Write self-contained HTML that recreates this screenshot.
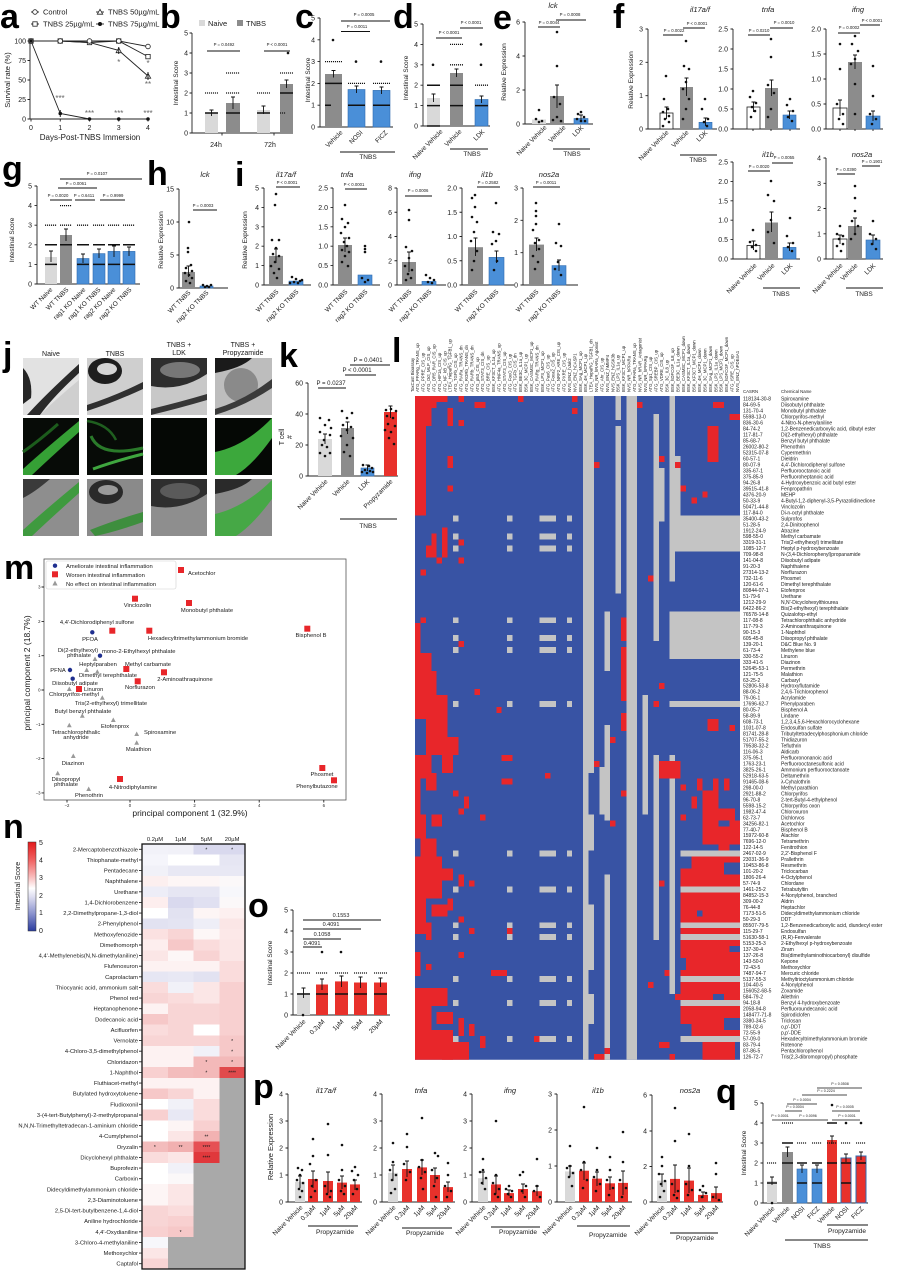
<!DOCTYPE html>
<html><head><meta charset="utf-8"><style>
html,body{margin:0;padding:0;background:#fff;}
svg{display:block}
text{font-family:"Liberation Sans",Arial,sans-serif;fill:#1a1a1a}
.L{font-size:34px;font-weight:bold;fill:#000}
.tk{font-size:7px}
.tt{font-size:6.5px}
.pv{font-size:4.3px}
.it{font-size:7.5px;font-style:italic}
.ax{stroke:#222;stroke-width:0.9;fill:none}
.pl{stroke:#111;stroke-width:1;fill:none}
.dt{stroke:#111;stroke-width:1.3;stroke-dasharray:1.1 0.9;fill:none}
.th{stroke:#111;stroke-width:1.5;fill:none}
.eb{stroke:#111;stroke-width:0.9;fill:none}
.dots{stroke:#111;stroke-width:2.6;stroke-linecap:round;fill:none}
.g1{fill:#d9d9d9}.g2{fill:#8c8c8c}.bl{fill:#4a8fd8;stroke:#2f6cb0;stroke-width:0.6}.rd{fill:#e8312b}
.rb{fill:#e8312b;stroke:#2f6cb0;stroke-width:1}
.wb{fill:#fff;stroke:#222;stroke-width:0.8}
.e{text-anchor:end}.m{text-anchor:middle}
.gy text{fill:#666}
.hr{fill:#e8262a}.hg{fill:#c4c4c4}.hb{fill:#3853a4}
</style></head><body>
<svg width="900" height="1274" viewBox="0 0 900 1274" xmlns="http://www.w3.org/2000/svg">
<rect width="900" height="1274" fill="#fff"/>

<!-- ================= a ================= -->
<text class="L" x="0" y="28">a</text>
<g style="font-size:7.5px">
<path class="ax" d="M31 12H39"/><circle cx="35" cy="12" r="2.3" class="wb"/><text x="43" y="14.6">Control</text>
<path class="ax" d="M31 24H39"/><rect x="32.8" y="21.8" width="4.4" height="4.4" class="wb"/><text x="43" y="26.6">TNBS 25µg/mL</text>
<path class="ax" d="M96 12H104"/><path d="M100 9.3L102.7 14.2H97.3Z" class="wb"/><text x="108" y="14.6">TNBS 50µg/mL</text>
<path class="ax" d="M96 24H104"/><circle cx="100" cy="24" r="2" fill="#111"/><text x="108" y="26.6">TNBS 75µg/mL</text>
</g>
<path class="ax" d="M30 41V119H148M27.5 41H30M27.5 60.5H30M27.5 80H30M27.5 99.5H30M27.5 119H30M31 119V121.5M60.25 119V121.5M89.5 119V121.5M118.75 119V121.5M148 119V121.5"/>
<g class="tk e"><text x="26" y="43.5">100</text><text x="26" y="63">75</text><text x="26" y="82.5">50</text><text x="26" y="102">25</text><text x="26" y="121.5">0</text></g>
<g class="tk m"><text x="31" y="130">0</text><text x="60.25" y="130">1</text><text x="89.5" y="130">2</text><text x="118.75" y="130">3</text><text x="148" y="130">4</text></g>
<text class="m" style="font-size:8px" x="90" y="140">Days-Post-TNBS Immersion</text>
<text class="m" style="font-size:7.5px" transform="translate(10,80) rotate(-90)">Survival rate (%)</text>
<polyline class="ax" points="31,41 60.25,41 89.5,41 118.75,41 148,46.5"/>
<polyline class="ax" points="31,41 60.25,41 89.5,42.5 118.75,41 148,56.6"/>
<polyline class="ax" points="31,41 60.25,41 89.5,42.5 118.75,50.4 148,76"/>
<polyline class="ax" points="31,41 60.25,113.5 89.5,119 118.75,119 148,119"/>
<g class="wb">
<rect x="28.8" y="38.8" width="4.4" height="4.4"/><rect x="58" y="38.8" width="4.4" height="4.4"/><rect x="87.3" y="40.3" width="4.4" height="4.4"/><rect x="116.5" y="38.8" width="4.4" height="4.4"/><rect x="145.8" y="54.4" width="4.4" height="4.4"/>
<circle cx="31" cy="41" r="2.3"/><circle cx="60.25" cy="41" r="2.3"/><circle cx="89.5" cy="41" r="2.3"/><circle cx="118.75" cy="41" r="2.3"/><circle cx="148" cy="46.5" r="2.3"/>
<path d="M118.75 47.8L121.4 52.7H116.1Z M148 73.3L150.7 78.2H145.3Z"/>
</g>
<g fill="#111"><circle cx="31" cy="41" r="1.8"/><circle cx="60.25" cy="113.5" r="1.8"/><circle cx="89.5" cy="119" r="1.8"/><circle cx="118.75" cy="119" r="1.8"/><circle cx="148" cy="119" r="1.8"/></g>
<path class="eb" d="M60.25 110V117M118.75 47V54M148 72V80"/>
<g class="gy m" style="font-size:8px"><text x="60" y="101">***</text><text x="89.5" y="116">***</text><text x="118.75" y="116">***</text><text x="148" y="116">***</text><text x="118.75" y="65">*</text><text x="148" y="66">*</text><text x="148" y="87">**</text></g>

<!-- ================= b ================= -->
<text class="L" x="160" y="28">b</text>
<rect x="199" y="20" width="6" height="6" class="g1"/><text x="208" y="26" style="font-size:7.5px">Naive</text>
<rect x="237" y="20" width="6" height="6" class="g2"/><text x="246" y="26" style="font-size:7.5px">TNBS</text>
<path class="ax" d="M192 33V133H293M189.5 33H192M189.5 53H192M189.5 73H192M189.5 93H192M189.5 113H192M189.5 133H192M222 133V135.5M274 133V135.5"/>
<g class="tk e"><text x="188" y="35.5">5</text><text x="188" y="55.5">4</text><text x="188" y="75.5">3</text><text x="188" y="95.5">2</text><text x="188" y="115.5">1</text><text x="188" y="135.5">0</text></g>
<rect x="205" y="113" width="13" height="20" class="g1"/>
<rect x="226" y="103" width="14" height="30" class="g2"/>
<rect x="257" y="110" width="13" height="23" class="g1"/>
<rect x="280" y="84" width="13" height="49" class="g2"/>
<path class="dt" d="M205 93H218M226 73H240M226 93H240M257 93H270M280 73H293M280 113H286"/>
<path class="th" d="M205 113H218M226 113H240M257 113H270M280 93H293"/>
<path class="dots" d="M288 53h0"/>
<path class="eb" d="M211.5 110V116M209.5 110H213.5M233 97V109M231 97H235M263.5 106V114M261.5 106H265.5M286.5 80V88M284.5 80H288.5"/>
<text class="pv m" x="224" y="46">P = 0.0492</text><path class="pl" d="M207 51H240"/>
<text class="pv m" x="277" y="46">P &lt; 0.0001</text><path class="pl" d="M264 51H290"/>
<text class="tk m" x="216" y="147">24h</text><text class="tk m" x="270" y="147">72h</text>
<text class="tt m" transform="translate(178,83) rotate(-90)">Intestinal Score</text>

<!-- ================= c ================= -->
<text class="L" x="295" y="28">c</text>
<path class="ax" d="M320 18V127H393M317.5 18H320M317.5 39.8H320M317.5 61.6H320M317.5 83.4H320M317.5 105.2H320M317.5 127H320"/>
<g class="tk e"><text x="315" y="20.5">5</text><text x="315" y="42.3">4</text><text x="315" y="64.1">3</text><text x="315" y="85.9">2</text><text x="315" y="107.7">1</text><text x="315" y="129.5">0</text></g>
<rect x="325" y="74" width="17" height="53" class="g2"/>
<rect x="348" y="89.5" width="17" height="37.5" class="bl"/>
<rect x="373" y="90.4" width="17" height="36.6" class="bl"/>
<path class="dt" d="M325 61.6H342M348 83.4H365M373 83.4H390"/>
<path class="th" d="M325 83.4H342M325 105.2H331M348 105.2H365M373 105.2H390"/>
<path class="dots" d="M333 40h0M356 61.6h0M381 61.6h0"/>
<path class="eb" d="M333.5 70.5V77.5M331.5 70.5H335.5M356.5 86V93M354.5 86H358.5M381.5 87V94M379.5 87H383.5"/>
<text class="pv m" x="364" y="16">P = 0.0005</text><path class="pl" d="M341 21H390"/>
<text class="pv m" x="357" y="28">P = 0.0011</text><path class="pl" d="M341 31.5H370"/>
<g class="tt e"><text transform="translate(343,133) rotate(-45)">Vehicle</text><text transform="translate(363,133) rotate(-45)">NOSI</text><text transform="translate(388,133) rotate(-45)">FICZ</text></g>
<path class="pl" d="M340 152H395"/><text class="tt m" x="368" y="159">TNBS</text>
<text class="tt m" transform="translate(310,80) rotate(-90)">Intestinal Score</text>

<!-- ================= d ================= -->
<text class="L" x="393" y="28">d</text>
<path class="ax" d="M423 24V126H490M420.5 24H423M420.5 44.4H423M420.5 64.8H423M420.5 85.2H423M420.5 105.6H423M420.5 126H423"/>
<g class="tk e"><text x="418" y="26.5">5</text><text x="418" y="46.9">4</text><text x="418" y="67.3">3</text><text x="418" y="87.7">2</text><text x="418" y="108.1">1</text><text x="418" y="128.5">0</text></g>
<rect x="427" y="98" width="13" height="28" class="g1"/>
<rect x="450" y="73" width="13" height="53" class="g2"/>
<rect x="475" y="99.5" width="13" height="26.5" class="bl"/>
<path class="dt" d="M450 44.4H463M450 64.8H463M475 85.2H488"/>
<path class="th" d="M427 85.2H440M427 105.6H440M427 126H440M450 85.2H463M450 105.6H463M475 105.6H488"/>
<path class="dots" d="M433 64.8h0M481 44.4h0M481 64.8h0"/>
<path class="eb" d="M433.5 94V102M431.5 94H435.5M456.5 69V77M454.5 69H458.5M481.5 96V103M479.5 96H483.5"/>
<text class="pv m" x="471" y="24">P &lt; 0.0001</text><path class="pl" d="M460 28H483"/>
<text class="pv m" x="449" y="34">P &lt; 0.0001</text><path class="pl" d="M436 38H462"/>
<g class="tt e"><text transform="translate(443,132) rotate(-45)">Naive Vehicle</text><text transform="translate(462,132) rotate(-45)">Vehicle</text><text transform="translate(485,132) rotate(-45)">LDK</text></g>
<path class="pl" d="M450 149H488"/><text class="tt m" x="472" y="156">TNBS</text>
<text class="tt m" transform="translate(408,78) rotate(-90)">Intestinal Score</text>

<!-- ================= e ================= -->
<text class="L" x="493" y="29">e</text>
<text class="it m" x="553" y="8">lck</text>
<path class="ax" d="M525 22V124H593M522.5 22H525M522.5 56H525M522.5 90H525M522.5 124H525"/>
<g class="tk e"><text x="520" y="24.5">6</text><text x="520" y="58.5">4</text><text x="520" y="92.5">2</text><text x="520" y="126.5">0</text></g>
<rect x="532" y="119.5" width="14" height="4.5" class="g1"/>
<rect x="550" y="96" width="14" height="28" class="g2"/>
<rect x="574" y="118.5" width="14" height="5.5" class="bl"/>
<path class="dots" d="M539 110h0M536 119h0M542 121h0M539 122h0M557 32h0M557 66h0M554 97h0M560 104h0M557 117h0M553 120h0M561 121h0M581 112h0M578 114h0M584 117h0M577 119h0M581 121h0M585 121h0"/>
<path class="eb" d="M557 85V108M555 85H559M581 115V121M579 115H583"/>
<text class="pv m" x="570" y="16">P = 0.0008</text><path class="pl" d="M556 20H586"/>
<text class="pv m" x="549" y="24">P = 0.0044</text><path class="pl" d="M538 27H560"/>
<text class="tt m" transform="translate(506,72) rotate(-90)">Relative Expression</text>
<g class="tt e"><text transform="translate(547,128) rotate(-45)">Naive Vehicle</text><text transform="translate(566,128) rotate(-45)">Vehicle</text><text transform="translate(584,128) rotate(-45)">LDK</text></g>
<path class="pl" d="M553 149H590"/><text class="tt m" x="572" y="156">TNBS</text>

<!-- ================= f top ================= -->
<text class="L" x="613" y="28">f</text>
<text class="tt m" transform="translate(633,80) rotate(-90)">Relative Expression</text>
<!-- il17a/f -->
<text class="it m" x="700" y="12">il17a/f</text>
<path class="ax" d="M648 29V129H717M645.5 29H648M645.5 62.3H648M645.5 95.7H648M645.5 129H648"/>
<g class="tk e"><text x="643" y="31.5">3</text><text x="643" y="64.8">2</text><text x="643" y="98.2">1</text><text x="643" y="131.5">0</text></g>
<rect x="660" y="113" width="13" height="16" class="wb"/>
<rect x="680" y="87" width="13" height="42" class="g2"/>
<rect x="699" y="122.3" width="13" height="6.7" class="bl"/>
<path class="dots" d="M666 76h0M664 99h0M668 109h0M663 112h0M669 116h0M665 119h0M669 122h0M663 126h0M686 41h0M684 66h0M689 69h0M686 82h0M683 89h0M689 99h0M686 109h0M683 119h0M705 99h0M702 109h0M708 119h0M704 122h0M707 126h0"/>
<path class="eb" d="M666.5 107V119M664.5 107H668.5M686.5 78V96M684.5 78H688.5M705.5 118V126M703.5 118H707.5"/>
<text class="pv m" x="674" y="32">P = 0.0022</text><path class="pl" d="M663 35H683"/>
<text class="pv m" x="697" y="25">P &lt; 0.0001</text><path class="pl" d="M683 28H705"/>
<g class="tt e"><text transform="translate(669,133) rotate(-45)">Naive Vehicle</text><text transform="translate(689,133) rotate(-45)">Vehicle</text><text transform="translate(708,133) rotate(-45)">LDK</text></g>
<path class="pl" d="M680 155H717"/><text class="tt m" x="698" y="162">TNBS</text>
<!-- tnfa -->
<text class="it m" x="768" y="12">tnfa</text>
<path class="ax" d="M733 29V129H800M730.5 29H733M730.5 49H733M730.5 69H733M730.5 89H733M730.5 109H733M730.5 129H733M753 129V131M771 129V131M790 129V131"/>
<g class="tk e"><text x="728" y="31.5">2.5</text><text x="728" y="51.5">2.0</text><text x="728" y="71.5">1.5</text><text x="728" y="91.5">1.0</text><text x="728" y="111.5">0.5</text><text x="728" y="131.5">0.0</text></g>
<rect x="747" y="107" width="13" height="22" class="wb"/>
<rect x="765" y="88" width="13" height="41" class="g2"/>
<rect x="783" y="115" width="13" height="14" class="bl"/>
<path class="dots" d="M753 91h0M750 97h0M756 103h0M752 107h0M755 111h0M751 117h0M771 39h0M771 57h0M768 85h0M774 93h0M771 109h0M768 117h0M790 99h0M787 105h0M793 111h0M788 117h0M792 121h0"/>
<path class="eb" d="M753.5 102V112M751.5 102H755.5M771.5 80V96M769.5 80H773.5M789.5 111V119M787.5 111H791.5"/>
<text class="pv m" x="759" y="32">P = 0.0210</text><path class="pl" d="M748 35H770"/>
<text class="pv m" x="784" y="24">P = 0.0010</text><path class="pl" d="M770 28H793"/>
<!-- ifng -->
<text class="it m" x="858" y="12">ifng</text>
<path class="ax" d="M826 29V129H883M823.5 29H826M823.5 54H826M823.5 79H826M823.5 104H826M823.5 129H826M840 129V131M855 129V131M873 129V131"/>
<g class="tk e"><text x="821" y="31.5">2.0</text><text x="821" y="56.5">1.5</text><text x="821" y="81.5">1.0</text><text x="821" y="106.5">0.5</text><text x="821" y="131.5">0.0</text></g>
<rect x="833" y="108" width="14" height="21" class="wb"/>
<rect x="848" y="62" width="14" height="67" class="g2"/>
<rect x="866" y="116" width="14" height="13" class="bl"/>
<path class="dots" d="M840 44h0M840 69h0M837 104h0M843 114h0M839 119h0M843 124h0M855 36h0M852 44h0M858 51h0M855 59h0M851 64h0M855 84h0M855 114h0M873 66h0M873 96h0M870 114h0M876 119h0M872 124h0"/>
<path class="eb" d="M840 100V116M838 100H842M855 55V69M853 55H857M873 111V121M871 111H875"/>
<text class="pv m" x="849" y="29">P = 0.0002</text><path class="pl" d="M838 33H860"/>
<text class="pv m" x="872" y="22">P &lt; 0.0001</text><path class="pl" d="M860 25H880"/>
<!-- il1b bottom -->
<text class="it m" x="768" y="157">il1b</text>
<path class="ax" d="M733 162V259H800M730.5 162H733M730.5 181.4H733M730.5 200.8H733M730.5 220.2H733M730.5 239.6H733M730.5 259H733"/>
<g class="tk e"><text x="728" y="164.5">2.5</text><text x="728" y="183.9">2.0</text><text x="728" y="203.3">1.5</text><text x="728" y="222.7">1.0</text><text x="728" y="242.1">0.5</text><text x="728" y="261.5">0.0</text></g>
<rect x="747" y="245.4" width="13" height="13.6" class="wb"/>
<rect x="765" y="222.5" width="13" height="36.5" class="g2"/>
<rect x="783" y="247.4" width="13" height="11.6" class="bl"/>
<path class="dots" d="M753 230h0M750 242h0M756 245h0M752 247h0M756 251h0M771 181h0M768 195h0M774 201h0M771 220h0M768 232h0M774 243h0M790 218h0M787 236h0M793 243h0M788 247h0M792 251h0"/>
<path class="eb" d="M753.5 241V250M751.5 241H755.5M771.5 212V232M769.5 212H773.5M789.5 243V251M787.5 243H791.5"/>
<text class="pv m" x="784" y="159">P = 0.0055</text><path class="pl" d="M772 163H793"/>
<text class="pv m" x="759" y="168">P = 0.0020</text><path class="pl" d="M748 171H770"/>
<g class="tt e"><text transform="translate(757,266) rotate(-45)">Naive Vehicle</text><text transform="translate(775,266) rotate(-45)">Vehicle</text><text transform="translate(793,266) rotate(-45)">LDK</text></g>
<path class="pl" d="M763 288H800"/><text class="tt m" x="781" y="296">TNBS</text>
<!-- nos2a -->
<text class="it m" x="862" y="157">nos2a</text>
<path class="ax" d="M826 158V259H883M823.5 158H826M823.5 183.3H826M823.5 208.5H826M823.5 233.8H826M823.5 259H826"/>
<g class="tk e"><text x="821" y="160.5">4</text><text x="821" y="185.8">3</text><text x="821" y="211">2</text><text x="821" y="236.3">1</text><text x="821" y="261.5">0</text></g>
<rect x="833" y="239" width="14" height="20" class="wb"/>
<rect x="848" y="226" width="14" height="33" class="g2"/>
<rect x="866" y="240" width="14" height="19" class="bl"/>
<path class="dots" d="M840 226h0M837 234h0M843 236h0M839 239h0M843 244h0M837 246h0M841 251h0M855 186h0M855 198h0M855 211h0M852 221h0M858 226h0M855 234h0M851 239h0M873 221h0M870 234h0M876 239h0M872 244h0M876 249h0"/>
<path class="eb" d="M840 235V244M838 235H842M855 218V234M853 218H857M873 235V245M871 235H875"/>
<text class="pv m" x="872" y="163">P = 0.1901</text><path class="pl" d="M862 166H880"/>
<text class="pv m" x="846" y="171">P = 0.0390</text><path class="pl" d="M837 174H855"/>
<g class="tt e"><text transform="translate(843,266) rotate(-45)">Naive Vehicle</text><text transform="translate(858,266) rotate(-45)">Vehicle</text><text transform="translate(876,266) rotate(-45)">LDK</text></g>
<path class="pl" d="M846 288H883"/><text class="tt m" x="864" y="296">TNBS</text>

<!-- ================= g ================= -->
<text class="L" x="2" y="180">g</text>
<path class="ax" d="M37 186V284H140M34.5 186H37M34.5 205.6H37M34.5 225.2H37M34.5 244.8H37M34.5 264.4H37M34.5 284H37"/>
<g class="tk e"><text x="32" y="188.5">5</text><text x="32" y="208.1">4</text><text x="32" y="227.7">3</text><text x="32" y="247.3">2</text><text x="32" y="266.9">1</text><text x="32" y="286.5">0</text></g>
<rect x="45" y="257" width="12" height="27" class="g1"/>
<rect x="60" y="235" width="12" height="49" class="g2"/>
<rect x="77" y="258.5" width="12" height="25.5" class="bl"/>
<rect x="93" y="253.6" width="12" height="30.4" class="bl"/>
<rect x="108" y="251.4" width="12" height="32.6" class="bl"/>
<rect x="123" y="251.4" width="12" height="32.6" class="bl"/>
<path class="dt" d="M45 225.2H57M60 205.6H72M60 225.2H72M77 225.2H89M93 225.2H105M108 225.2H120M123 225.2H135"/>
<path class="th" d="M45 244.8H57M45 264.4H57M60 244.8H72M77 244.8H89M77 264.4H89M93 244.8H105M93 264.4H105M108 244.8H120M108 264.4H120M123 244.8H135M123 264.4H135"/>
<path class="eb" d="M51 251V262M49 251H53M66 229V241M64 229H68M83 254V263M81 254H85M99 249V258M97 249H101M114 246V257M112 246H116M129 247V256M127 247H131"/>
<text class="pv m" x="97" y="175">P = 0.0107</text><path class="pl" d="M60 179H142"/>
<text class="pv m" x="76" y="185">P = 0.0061</text><path class="pl" d="M58 188H97"/>
<text class="pv m" x="58" y="197">P = 0.0020</text><text class="pv m" x="84" y="197">P = 0.6411</text><text class="pv m" x="113" y="197">P = 0.9999</text>
<path class="pl" d="M50 200H72M75 200H95M100 200H125"/>
<g class="tt e"><text transform="translate(53,290) rotate(-45)">WT Naive</text><text transform="translate(69,290) rotate(-45)">WT TNBS</text><text transform="translate(86,290) rotate(-45)">rag1 KO Naive</text><text transform="translate(101,290) rotate(-45)">rag1 KO TNBS</text><text transform="translate(116,290) rotate(-45)">rag2 KO Naive</text><text transform="translate(132,290) rotate(-45)">rag2 KO TNBS</text></g>
<text class="tt m" transform="translate(14,240) rotate(-90)">Intestinal Score</text>

<!-- ================= h ================= -->
<text class="L" x="147" y="185">h</text>
<text class="it m" x="205" y="177">lck</text>
<path class="ax" d="M179 189V288H228M176.5 189H179M176.5 222H179M176.5 255H179M176.5 288H179"/>
<g class="tk e"><text x="174" y="191.5">15</text><text x="174" y="224.5">10</text><text x="174" y="257.5">5</text><text x="174" y="290.5">0</text></g>
<rect x="182" y="272" width="13" height="16" class="g2"/>
<rect x="200" y="286" width="13" height="2" class="bl"/>
<path class="dots" d="M189 222h0M188 248h0M188 252h0M191 265h0M186 268h0M192 271h0M185 273h0M189 275h0M192 278h0M186 281h0M190 283h0M203 285h0M207 286h0M211 285h0M205 287h0M209 287h0"/>
<path class="eb" d="M188.5 266V277M186.5 266H190.5"/>
<text class="pv m" x="203" y="207">P = 0.0003</text><path class="pl" d="M193 210H217"/>
<g class="tt e"><text transform="translate(191,293) rotate(-45)">WT TNBS</text><text transform="translate(209,293) rotate(-45)">rag2 KO TNBS</text></g>
<text class="tt m" transform="translate(163,240) rotate(-90)">Relative Expression</text>

<!-- ================= i ================= -->
<text class="L" x="235" y="186">i</text>
<text class="tt m" transform="translate(247,240) rotate(-90)">Relative Expression</text>
<!-- il17a/f -->
<text class="it m" x="286" y="177">il17a/f</text>
<path class="ax" d="M264 188V285H311M261.5 188H264M261.5 207.4H264M261.5 226.8H264M261.5 246.2H264M261.5 265.6H264M261.5 285H264"/>
<g class="tk e"><text x="259" y="190.5">5</text><text x="259" y="209.9">4</text><text x="259" y="229.3">3</text><text x="259" y="248.7">2</text><text x="259" y="268.1">1</text><text x="259" y="287.5">0</text></g>
<rect x="269" y="255.9" width="14" height="29.1" class="g2"/>
<rect x="289" y="281.1" width="14" height="3.9" class="bl"/>
<path class="dots" d="M276 194h0M275 205h0M272 240h0M279 240h0M276 248h0M273 254h0M279 256h0M275 262h0M271 266h0M279 269h0M274 273h0M277 278h0M292 277h0M296 279h0M300 281h0M294 282h0M298 283h0M302 280h0M290 283h0"/>
<path class="eb" d="M276 249V263M274 249H278"/>
<text class="pv m" x="287" y="184">P &lt; 0.0001</text><path class="pl" d="M276 187H300"/>
<g class="tt e"><text transform="translate(279,292) rotate(-45)">WT TNBS</text><text transform="translate(299,292) rotate(-45)">rag2 KO TNBS</text></g>
<!-- tnfa -->
<text class="it m" x="347" y="177">tnfa</text>
<path class="ax" d="M333 188V285H380M330.5 188H333M330.5 207.4H333M330.5 226.8H333M330.5 246.2H333M330.5 265.6H333M330.5 285H333"/>
<g class="tk e"><text x="328" y="190.5">2.5</text><text x="328" y="209.9">2.0</text><text x="328" y="229.3">1.5</text><text x="328" y="248.7">1.0</text><text x="328" y="268.1">0.5</text><text x="328" y="287.5">0.0</text></g>
<rect x="338" y="245" width="14" height="40" class="g2"/>
<rect x="358" y="275" width="14" height="10" class="bl"/>
<path class="dots" d="M345 205h0M342 219h0M348 223h0M345 227h0M341 233h0M349 238h0M344 242h0M347 246h0M342 250h0M349 252h0M345 256h0M342 262h0M348 266h0M365 246h0M365 249h0M365 252h0M362 278h0M368 280h0M365 282h0"/>
<path class="eb" d="M345 238V252M343 238H347"/>
<text class="pv m" x="354" y="186">P &lt; 0.0001</text><path class="pl" d="M345 189H367"/>
<g class="tt e"><text transform="translate(348,292) rotate(-45)">WT TNBS</text><text transform="translate(368,292) rotate(-45)">rag2 KO TNBS</text></g>
<!-- ifng -->
<text class="it m" x="415" y="177">ifng</text>
<path class="ax" d="M397 188V285H446M394.5 188H397M394.5 212.25H397M394.5 236.5H397M394.5 260.75H397M394.5 285H397"/>
<g class="tk e"><text x="392" y="190.5">8</text><text x="392" y="214.75">6</text><text x="392" y="239">4</text><text x="392" y="263.25">2</text><text x="392" y="287.5">0</text></g>
<rect x="402" y="262" width="14" height="23" class="g2"/>
<rect x="422" y="281.4" width="14" height="3.6" class="bl"/>
<path class="dots" d="M409 210h0M409 220h0M406 247h0M412 251h0M409 258h0M405 266h0M412 270h0M408 274h0M411 278h0M406 280h0M426 275h0M430 278h0M434 280h0M428 282h0M432 283h0"/>
<path class="eb" d="M409 252V272M407 252H411"/>
<text class="pv m" x="418" y="192">P = 0.0006</text><path class="pl" d="M405 196H432"/>
<g class="tt e"><text transform="translate(412,292) rotate(-45)">WT TNBS</text><text transform="translate(432,292) rotate(-45)">rag2 KO TNBS</text></g>
<!-- il1b -->
<text class="it m" x="487" y="177">il1b</text>
<path class="ax" d="M462 188V285H514M459.5 188H462M459.5 212.25H462M459.5 236.5H462M459.5 260.75H462M459.5 285H462"/>
<g class="tk e"><text x="457" y="190.5">2.0</text><text x="457" y="214.75">1.5</text><text x="457" y="239">1.0</text><text x="457" y="263.25">0.5</text><text x="457" y="287.5">0.0</text></g>
<rect x="468" y="247.2" width="15" height="37.8" class="g2"/>
<rect x="489" y="257.4" width="15" height="27.6" class="bl"/>
<path class="dots" d="M475 195h0M472 198h0M475 207h0M472 217h0M477 222h0M474 232h0M471 241h0M477 251h0M474 261h0M472 270h0M496 203h0M493 232h0M499 234h0M496 241h0M492 244h0M497 261h0M494 270h0"/>
<path class="eb" d="M475.5 238V256M473.5 238H477.5M496.5 251V263M494.5 251H498.5"/>
<text class="pv m" x="488" y="184">P = 0.2582</text><path class="pl" d="M477 187H500"/>
<g class="tt e"><text transform="translate(478,292) rotate(-45)">WT TNBS</text><text transform="translate(499,292) rotate(-45)">rag2 KO TNBS</text></g>
<!-- nos2a -->
<text class="it m" x="549" y="177">nos2a</text>
<path class="ax" d="M523 188V285H578M520.5 188H523M520.5 220.3H523M520.5 252.7H523M520.5 285H523"/>
<g class="tk e"><text x="518" y="190.5">3</text><text x="518" y="222.8">2</text><text x="518" y="255.2">1</text><text x="518" y="287.5">0</text></g>
<rect x="529" y="244.6" width="15" height="40.4" class="g2"/>
<rect x="552" y="265.6" width="14" height="19.4" class="bl"/>
<path class="dots" d="M536 203h0M536 211h0M536 216h0M536 224h0M533 230h0M539 240h0M535 243h0M539 249h0M533 256h0M538 262h0M535 269h0M559 224h0M556 243h0M561 246h0M558 262h0M555 269h0M561 275h0"/>
<path class="eb" d="M536.5 238V251M534.5 238H538.5M559 260V271M557 260H561"/>
<text class="pv m" x="546" y="184">P = 0.0011</text><path class="pl" d="M533 187H560"/>
<g class="tt e"><text transform="translate(539,292) rotate(-45)">WT TNBS</text><text transform="translate(561,292) rotate(-45)">rag2 KO TNBS</text></g>

<!-- ================= j ================= -->
<text class="L" x="3" y="366">j</text>
<g class="tt m" style="font-size:7px">
<text x="51" y="356">Naive</text><text x="115" y="356">TNBS</text>
<text x="179" y="347">TNBS +</text><text x="179" y="355">LDK</text>
<text x="243" y="347">TNBS +</text><text x="243" y="355">Propyzamide</text>
</g>
<!-- row 1 brightfield -->
<rect x="23" y="358" width="56" height="57" fill="#e2e2e2"/>
<path d="M23 368Q33 378 31 398L23 404Z" fill="#262626"/>
<path d="M27 415Q46 394 79 364L79 373Q52 398 40 415Z" fill="#2a2a2a"/>
<path d="M40 415Q55 400 79 380V415Z" fill="#cfcfcf"/>
<rect x="87" y="358" width="56" height="57" fill="#cfcfcf"/>
<ellipse cx="105" cy="371" rx="17" ry="13" fill="#1e1e1e"/><ellipse cx="107" cy="369" rx="10" ry="6" fill="#d5d5d5"/>
<path d="M87 405Q115 396 143 382L143 389Q115 402 87 411Z" fill="#303030"/>
<rect x="151" y="358" width="56" height="57" fill="#c8c8c8"/>
<path d="M151 358H207V374Q180 392 151 386Z" fill="#2e2e2e"/><ellipse cx="180" cy="370" rx="20" ry="8" fill="#777"/>
<path d="M151 409Q180 402 207 394L207 400Q180 408 151 415Z" fill="#363636"/>
<rect x="215" y="358" width="57" height="57" fill="#bdbdbd"/>
<path d="M215 358H252Q242 368 215 373Z" fill="#1a1a1a"/><circle cx="241" cy="385" r="17" fill="#8a8a8a"/>
<path d="M215 409Q245 400 272 379V388Q245 406 215 415Z" fill="#3a3a3a"/>
<!-- row 2 fluorescence -->
<rect x="23" y="418" width="56" height="57" fill="#070b07"/>
<path d="M23 469Q45 449 79 421L79 432Q50 458 32 475L23 475Z" fill="#35a035"/>
<path d="M23 452Q40 440 58 424" stroke="#1c5c1c" stroke-width="3" fill="none"/>
<rect x="87" y="418" width="56" height="57" fill="#070b07"/>
<path d="M91 436Q100 458 143 448" stroke="#2a7a2a" stroke-width="3" fill="none"/>
<path d="M93 469Q115 461 143 454" stroke="#3fa63f" stroke-width="3" fill="none"/>
<path d="M87 421Q108 424 116 440" stroke="#1f5f1f" stroke-width="2.5" fill="none"/>
<rect x="151" y="418" width="56" height="57" fill="#050805"/>
<rect x="215" y="418" width="57" height="57" fill="#050805"/>
<path d="M215 475L215 452Q245 446 272 418V438Q252 466 236 475Z" fill="#3ca83c"/>
<!-- row 3 merge -->
<rect x="23" y="479" width="56" height="57" fill="#8e8e8e"/>
<path d="M23 479H50Q35 492 23 498Z" fill="#3a3a3a"/>
<path d="M23 530Q45 510 79 482L79 493Q50 519 32 536L23 536Z" fill="#3f9a3f"/>
<rect x="87" y="479" width="56" height="57" fill="#8a8a8a"/>
<ellipse cx="106" cy="492" rx="17" ry="12" fill="#2a2a2a"/><ellipse cx="108" cy="490" rx="10" ry="5" fill="#9a9a9a"/>
<path d="M90 530Q115 520 143 512V522Q115 532 95 536Z" fill="#3e8e3e"/>
<rect x="151" y="479" width="56" height="57" fill="#8e8e8e"/>
<path d="M151 479H207V494Q180 512 151 506Z" fill="#2e2e2e"/><ellipse cx="180" cy="491" rx="20" ry="8" fill="#5a5a5a"/>
<rect x="215" y="479" width="57" height="57" fill="#8a8a8a"/>
<path d="M215 479H252Q242 489 215 494Z" fill="#2a2a2a"/>
<path d="M215 536L215 514Q245 507 272 480V499Q252 526 236 536Z" fill="#46a846"/>

<!-- ================= k ================= -->
<text class="L" x="279" y="367">k</text>
<path class="ax" d="M308 383V476H398M305.5 383H308M305.5 414H308M305.5 445H308M305.5 476H308"/>
<g class="tk e"><text x="303" y="385.5">60</text><text x="303" y="416.5">40</text><text x="303" y="447.5">20</text><text x="303" y="478.5">0</text></g>
<rect x="318" y="439" width="14" height="37" class="g1"/>
<rect x="341" y="428" width="13" height="48" class="g2"/>
<rect x="361" y="468" width="13" height="8" class="bl"/>
<rect x="384" y="412" width="13" height="64" class="rd"/>
<path class="dots" d="M320 418h0M329 420h0M325 425h0M320 432h0M330 435h0M324 440h0M327 447h0M320 453h0M330 453h0M325 456h0M322 445h0M331 428h0M342 411h0M352 413h0M347 418h0M343 425h0M351 427h0M347 430h0M341 436h0M353 438h0M347 445h0M344 452h0M350 456h0M363 465h0M369 466h0M372 468h0M365 470h0M370 471h0M367 473h0M362 472h0M373 472h0M386 410h0M391 409h0M396 411h0M387 416h0M393 418h0M388 424h0M395 426h0M385 430h0M391 432h0M389 438h0M394 444h0"/>
<path class="eb" d="M325 434V444M323 434H327M347.5 422V434M345.5 422H349.5M367.5 465V471M365.5 465H369.5M390.5 406V418M388.5 406H392.5"/>
<text class="tt m" x="331" y="385" style="font-size:6px">P = 0.0237</text><path class="pl" d="M318 388H346"/>
<text class="tt m" x="357" y="372" style="font-size:6px">P &lt; 0.0001</text><path class="pl" d="M345 375H376"/>
<text class="tt m" x="368" y="362" style="font-size:6px">P = 0.0401</text><path class="pl" d="M350 365H390"/>
<g class="tt e"><text transform="translate(328,482) rotate(-45)">Naive Vehicle</text><text transform="translate(350,482) rotate(-45)">Vehicle</text><text transform="translate(370,482) rotate(-45)">LDK</text><text transform="translate(393,482) rotate(-45)">Propyzamide</text></g>
<path class="pl" d="M340 519H397"/><text class="tt m" x="368" y="528">TNBS</text>
<text class="tk m" transform="translate(284,437) rotate(-90)">T cell</text>
<text class="tk m" transform="translate(292,437) rotate(-90)">#</text>

<!-- ================= l ================= -->
<text class="L" x="392" y="362">l</text>
<svg x="415" y="396" width="325.2" height="663.8" viewBox="0 0 60 111" preserveAspectRatio="none" shape-rendering="crispEdges">
<rect x="0" y="0" width="60" height="111" class="hb"/>
<g class="hg">
<rect x="31" y="0" width="1" height="111"/><rect x="32" y="0" width="1" height="63"/><rect x="32" y="70" width="1" height="6"/><rect x="32" y="85" width="1" height="11"/><rect x="32" y="100" width="1" height="5"/>
<rect x="39" y="0" width="2" height="111"/>
<rect x="37" y="0" width="1" height="4"/><rect x="37" y="5" width="1" height="28"/>
<rect x="35" y="36" width="1" height="10"/><rect x="35" y="55" width="1" height="16"/><rect x="35" y="80" width="1" height="31"/><rect x="34" y="62" width="1" height="8"/>
<rect x="44" y="3" width="1" height="38"/><rect x="44" y="60" width="1" height="31"/><rect x="45" y="12" width="1" height="9"/>
<rect x="47" y="0" width="1" height="31"/><rect x="47" y="60" width="1" height="40"/><rect x="48" y="10" width="1" height="16"/><rect x="42" y="50" width="1" height="20"/>
</g>
<g class="hr">
<rect x="0" y="0" width="2" height="20"/><rect x="2" y="0" width="4" height="1"/><rect x="2" y="1" width="1" height="4"/><rect x="3" y="1" width="1" height="1"/>
<rect x="6" y="2" width="1" height="3"/><rect x="6" y="10" width="1" height="2"/><rect x="6" y="15" width="1" height="1"/>
<rect x="8" y="0" width="1" height="1"/><rect x="8" y="4" width="1" height="1"/><rect x="11" y="1" width="2" height="1"/><rect x="19" y="0" width="1" height="1"/>
<rect x="29" y="0" width="1" height="1"/><rect x="29" y="2" width="1" height="1"/><rect x="33" y="11" width="1" height="1"/><rect x="45" y="10" width="1" height="1"/><rect x="48" y="11" width="1" height="1"/>
<rect x="54" y="5" width="2" height="6"/><rect x="55" y="1" width="2" height="1"/><rect x="58" y="3" width="2" height="1"/><rect x="41" y="1" width="1" height="1"/>
<rect x="49" y="15" width="1" height="1"/><rect x="51" y="17" width="1" height="1"/><rect x="53" y="16" width="1" height="1"/><rect x="57" y="22" width="1" height="1"/><rect x="43" y="30" width="1" height="1"/>
<rect x="3" y="23" width="1" height="4"/><rect x="5" y="22" width="1" height="5"/><rect x="2" y="25" width="1" height="2"/><rect x="8" y="24" width="1" height="1"/><rect x="8" y="27" width="1" height="1"/>
<rect x="4" y="27" width="1" height="1"/><rect x="1" y="29" width="1" height="1"/><rect x="1" y="37" width="1" height="1"/><rect x="0" y="38" width="1" height="8"/><rect x="1" y="43" width="2" height="3"/>
<rect x="0" y="46" width="4" height="8"/><rect x="3" y="50" width="3" height="10"/><rect x="2" y="54" width="1" height="6"/><rect x="6" y="57" width="2" height="3"/>
<rect x="8" y="41" width="1" height="1"/><rect x="11" y="49" width="1" height="1"/><rect x="15" y="52" width="1" height="1"/>
<rect x="38" y="37" width="1" height="4"/><rect x="38" y="42" width="1" height="9"/><rect x="38" y="53" width="1" height="3"/><rect x="36" y="57" width="1" height="1"/>
<rect x="44" y="51" width="1" height="1"/><rect x="45" y="48" width="1" height="1"/><rect x="54" y="54" width="2" height="2"/><rect x="58" y="55" width="1" height="1"/>
<rect x="0" y="60" width="3" height="4"/><rect x="5" y="60" width="2" height="3"/><rect x="0" y="64" width="1" height="6"/><rect x="2" y="63" width="2" height="3"/>
<rect x="7" y="66" width="1" height="1"/><rect x="9" y="67" width="1" height="2"/><rect x="0" y="70" width="2" height="4"/><rect x="3" y="70" width="2" height="2"/>
<rect x="1" y="74" width="3" height="3"/><rect x="0" y="77" width="5" height="7"/><rect x="5" y="79" width="2" height="2"/><rect x="6" y="84" width="1" height="2"/>
<rect x="8" y="80" width="1" height="2"/><rect x="10" y="81" width="1" height="1"/><rect x="0" y="84" width="2" height="6"/><rect x="3" y="85" width="3" height="2"/>
<rect x="2" y="88" width="1" height="3"/><rect x="0" y="93" width="1" height="4"/><rect x="2" y="95" width="1" height="1"/><rect x="0" y="99" width="6" height="3"/>
<rect x="0" y="102" width="3" height="4"/><rect x="4" y="103" width="3" height="2"/><rect x="0" y="106" width="7" height="5"/><rect x="8" y="104" width="1" height="3"/>
<rect x="10" y="105" width="1" height="2"/><rect x="12" y="107" width="1" height="2"/><rect x="5" y="108" width="5" height="3"/>
<rect x="16" y="60" width="2" height="1"/><rect x="16" y="64" width="2" height="1"/><rect x="24" y="63" width="1" height="1"/><rect x="8" y="69" width="1" height="1"/>
<rect x="12" y="70" width="1" height="1"/><rect x="8" y="87" width="1" height="1"/><rect x="10" y="89" width="1" height="1"/><rect x="8" y="93" width="1" height="1"/>
<rect x="14" y="96" width="3" height="1"/><rect x="17" y="89" width="1" height="1"/><rect x="33" y="61" width="1" height="1"/><rect x="38" y="66" width="1" height="1"/>
<rect x="36" y="71" width="1" height="1"/><rect x="45" y="61" width="4" height="3"/><rect x="45" y="81" width="1" height="1"/><rect x="46" y="96" width="1" height="1"/>
<rect x="43" y="98" width="1" height="1"/><rect x="48" y="100" width="1" height="1"/><rect x="45" y="108" width="2" height="1"/><rect x="47" y="110" width="1" height="1"/>
<rect x="33" y="110" width="2" height="1"/><rect x="35" y="109" width="1" height="1"/><rect x="22" y="107" width="3" height="1"/>
<rect x="52" y="64" width="1" height="2"/><rect x="55" y="64" width="1" height="2"/><rect x="57" y="64" width="1" height="2"/><rect x="49" y="65" width="1" height="1"/>
<rect x="51" y="67" width="1" height="2"/><rect x="53" y="66" width="3" height="9"/><rect x="56" y="69" width="3" height="2"/><rect x="58" y="71" width="2" height="4"/>
<rect x="56" y="72" width="2" height="4"/><rect x="54" y="76" width="3" height="1"/><rect x="49" y="70" width="1" height="1"/><rect x="50" y="76" width="1" height="1"/>
<rect x="49" y="77" width="11" height="20"/><rect x="49" y="98" width="11" height="10"/><rect x="53" y="108" width="6" height="3"/>
</g>
<g class="hb">
<rect x="49" y="77" width="2" height="2"/><rect x="57" y="78" width="3" height="2"/><rect x="49" y="94" width="1" height="2"/><rect x="55" y="100" width="2" height="1"/>
<rect x="57" y="104" width="3" height="2"/><rect x="49" y="105" width="2" height="3"/><rect x="52" y="86" width="1" height="1"/><rect x="58" y="92" width="2" height="1"/>
</g>
<g class="hg">
<rect x="47" y="20" width="13" height="6"/><rect x="47" y="36" width="13" height="8"/><rect x="47" y="51" width="13" height="1"/>
<rect x="49" y="76" width="11" height="1"/><rect x="49" y="82" width="11" height="1"/><rect x="49" y="88" width="11" height="1"/><rect x="49" y="90" width="11" height="1"/>
<rect x="49" y="97" width="11" height="1"/><rect x="49" y="101" width="11" height="1"/><rect x="49" y="107" width="11" height="1"/>
<rect x="7" y="20" width="1" height="1"/><rect x="17" y="20" width="1" height="1"/><rect x="23" y="20" width="3" height="1"/><rect x="28" y="20" width="1" height="1"/>
<rect x="7" y="23" width="1" height="1"/><rect x="17" y="23" width="1" height="1"/><rect x="23" y="23" width="3" height="1"/><rect x="28" y="23" width="1" height="1"/>
<rect x="7" y="25" width="1" height="1"/><rect x="17" y="25" width="1" height="1"/><rect x="23" y="25" width="3" height="1"/><rect x="28" y="25" width="1" height="1"/>
<rect x="7" y="37" width="1" height="1"/><rect x="17" y="37" width="1" height="1"/><rect x="23" y="37" width="3" height="1"/><rect x="28" y="37" width="1" height="1"/>
<rect x="7" y="40" width="1" height="1"/><rect x="17" y="40" width="1" height="1"/><rect x="23" y="40" width="3" height="1"/><rect x="28" y="40" width="1" height="1"/>
<rect x="7" y="42" width="1" height="1"/><rect x="17" y="42" width="1" height="1"/><rect x="23" y="42" width="3" height="1"/><rect x="28" y="42" width="1" height="1"/>
<rect x="7" y="51" width="1" height="1"/><rect x="17" y="51" width="1" height="1"/><rect x="23" y="51" width="3" height="1"/><rect x="28" y="51" width="1" height="1"/>
<rect x="7" y="76" width="1" height="1"/><rect x="17" y="76" width="1" height="1"/><rect x="23" y="76" width="3" height="1"/><rect x="28" y="76" width="1" height="1"/>
<rect x="7" y="82" width="1" height="1"/><rect x="17" y="82" width="1" height="1"/><rect x="23" y="82" width="3" height="1"/><rect x="28" y="82" width="1" height="1"/>
<rect x="7" y="88" width="1" height="1"/><rect x="17" y="88" width="1" height="1"/><rect x="23" y="88" width="3" height="1"/><rect x="28" y="88" width="1" height="1"/>
<rect x="7" y="90" width="1" height="1"/><rect x="17" y="90" width="1" height="1"/><rect x="23" y="90" width="3" height="1"/><rect x="28" y="90" width="1" height="1"/>
<rect x="7" y="97" width="1" height="1"/><rect x="17" y="97" width="1" height="1"/><rect x="23" y="97" width="3" height="1"/><rect x="28" y="97" width="1" height="1"/>
<rect x="7" y="101" width="1" height="1"/><rect x="17" y="101" width="1" height="1"/><rect x="23" y="101" width="3" height="1"/><rect x="28" y="101" width="1" height="1"/>
<rect x="7" y="107" width="1" height="1"/><rect x="17" y="107" width="1" height="1"/><rect x="23" y="107" width="3" height="1"/><rect x="28" y="107" width="1" height="1"/>
</g>
</svg>
<text class="pv" transform="translate(414,392) rotate(-90)">ToxCast Bioassay</text>
<g transform="translate(419.2,392) rotate(-90)"><text class="pv" x="0" y="0"><tspan x="0" dy="0">ATG_PPARg_TRANS_up</tspan><tspan x="0" dy="5.42">ATG_PPRE_CIS_up</tspan><tspan x="0" dy="5.42">ATG_Oct_MLP_CIS_up</tspan><tspan x="0" dy="5.42">ATG_DR5_RAR_CIS_up</tspan><tspan x="0" dy="5.42">ATG_HIF1a_CIS_up</tspan><tspan x="0" dy="5.42">ATG_NF_kB_CIS_up</tspan><tspan x="0" dy="5.42">LTEA_HepaRG_TGFB1_up</tspan><tspan x="0" dy="5.42">ATG_TGFb_CIS_up</tspan><tspan x="0" dy="5.42">ATG_RARa_TRANS_dn</tspan><tspan x="0" dy="5.42">ATG_RORb_TRANS_dn</tspan><tspan x="0" dy="5.42">ATG_RARb_TRANS_dn</tspan><tspan x="0" dy="5.42">ATG_p53_CIS_up</tspan><tspan x="0" dy="5.42">ATG_STAT3_CIS_dn</tspan><tspan x="0" dy="5.42">ATG_BRE_CIS_up</tspan><tspan x="0" dy="5.42">BSK_KF3CT_IL1a_up</tspan><tspan x="0" dy="5.42">ATG_HNF4a_TRANS_up</tspan><tspan x="0" dy="5.42">ATG_STAT3_CIS_up</tspan><tspan x="0" dy="5.42">ATG_FoxO_CIS_up</tspan><tspan x="0" dy="5.42">ATG_TGFb_CIS_dn</tspan><tspan x="0" dy="5.42">BSK_BE3C_IL1a_up</tspan><tspan x="0" dy="5.42">BSK_3C_MCP1_up</tspan><tspan x="0" dy="5.42">BSK_CASM3C_MCP1_up</tspan><tspan x="0" dy="5.42">ATG_RARg_TRANS_dn</tspan><tspan x="0" dy="5.42">BSK_LPS_MCP1_up</tspan><tspan x="0" dy="5.42">ATG_Pax6_CIS_up</tspan><tspan x="0" dy="5.42">ATG_Foxa2_CIS_up</tspan><tspan x="0" dy="5.42">ATG_NRF2_ARE_CIS_up</tspan><tspan x="0" dy="5.42">ATG_PXRE_CIS_up</tspan><tspan x="0" dy="5.42">NVS_ENZ_hJak2</tspan><tspan x="0" dy="5.42">NVS_ENZ_hCASP1</tspan><tspan x="0" dy="5.42">BSK_SAg_MCP1_up</tspan><tspan x="0" dy="5.42">BSK_4H_MCP1_up</tspan><tspan x="0" dy="5.42">LTEA_HepaRG_TGFB1_dn</tspan><tspan x="0" dy="5.42">NVS_NR_hRARa_Agonist</tspan><tspan x="0" dy="5.42">ATG_Ahr_CIS_up</tspan><tspan x="0" dy="5.42">NVS_ENZ_hMMP4</tspan><tspan x="0" dy="5.42">NVS_ENZ_hGSK3b</tspan><tspan x="0" dy="5.42">BSK_LPS_IL1a_up</tspan><tspan x="0" dy="5.42">BSK_KF3CT_MCP1_up</tspan><tspan x="0" dy="5.42">NVS_NR_hPPARa</tspan><tspan x="0" dy="5.42">ATG_PPARa_TRANS_up</tspan><tspan x="0" dy="5.42">NVS_NR_hRAR_Antagonist</tspan><tspan x="0" dy="5.42">NVS_NR_hPPARg</tspan><tspan x="0" dy="5.42">ATG_Sp1_CIS_up</tspan><tspan x="0" dy="5.42">ATG_SREBP_CIS_up</tspan><tspan x="0" dy="5.42">ATG_VDRE_CIS_up</tspan><tspan x="0" dy="5.42">BSK_3C_IL8_up</tspan><tspan x="0" dy="5.42">BSK_hDFCGF_IL8_up</tspan><tspan x="0" dy="5.42">BSK_BE3C_IL1a_down</tspan><tspan x="0" dy="5.42">BSK_CASM3C_MCP1_down</tspan><tspan x="0" dy="5.42">BSK_KF3CT_IL1a_down</tspan><tspan x="0" dy="5.42">BSK_KF3CT_MCP1_down</tspan><tspan x="0" dy="5.42">BSK_4H_MCP1_down</tspan><tspan x="0" dy="5.42">BSK_3C_MCP1_down</tspan><tspan x="0" dy="5.42">BSK_SAg_MCP1_down</tspan><tspan x="0" dy="5.42">BSK_LPS_IL1a_down</tspan><tspan x="0" dy="5.42">BSK_LPS_MCP1_down</tspan><tspan x="0" dy="5.42">BSK_hDFCGF_MCP1_down</tspan><tspan x="0" dy="5.42">ATG_ISRE_CIS_up</tspan><tspan x="0" dy="5.42">NVS_ENZ_hPDE4A1</tspan></text></g>
<text class="pv" x="743" y="393">CASRN</text><text class="pv" x="781" y="393">Chemical Name</text>
<text style="font-size:5px" x="743" y="400.7"><tspan x="743" dy="0">118134-30-8</tspan><tspan x="743" dy="5.98">84-69-5</tspan><tspan x="743" dy="5.98">131-70-4</tspan><tspan x="743" dy="5.98">5598-13-0</tspan><tspan x="743" dy="5.98">836-30-6</tspan><tspan x="743" dy="5.98">84-74-2</tspan><tspan x="743" dy="5.98">117-81-7</tspan><tspan x="743" dy="5.98">85-68-7</tspan><tspan x="743" dy="5.98">26002-80-2</tspan><tspan x="743" dy="5.98">52315-07-8</tspan><tspan x="743" dy="5.98">60-57-1</tspan><tspan x="743" dy="5.98">80-07-9</tspan><tspan x="743" dy="5.98">335-67-1</tspan><tspan x="743" dy="5.98">375-85-9</tspan><tspan x="743" dy="5.98">94-26-8</tspan><tspan x="743" dy="5.98">39515-41-8</tspan><tspan x="743" dy="5.98">4376-20-9</tspan><tspan x="743" dy="5.98">50-33-9</tspan><tspan x="743" dy="5.98">50471-44-8</tspan><tspan x="743" dy="5.98">117-84-0</tspan><tspan x="743" dy="5.98">35400-43-2</tspan><tspan x="743" dy="5.98">51-28-5</tspan><tspan x="743" dy="5.98">1912-24-9</tspan><tspan x="743" dy="5.98">598-55-0</tspan><tspan x="743" dy="5.98">3319-31-1</tspan><tspan x="743" dy="5.98">1085-12-7</tspan><tspan x="743" dy="5.98">709-98-8</tspan><tspan x="743" dy="5.98">141-04-8</tspan><tspan x="743" dy="5.98">91-20-3</tspan><tspan x="743" dy="5.98">27314-13-2</tspan><tspan x="743" dy="5.98">732-11-6</tspan><tspan x="743" dy="5.98">120-61-6</tspan><tspan x="743" dy="5.98">80844-07-1</tspan><tspan x="743" dy="5.98">51-79-6</tspan><tspan x="743" dy="5.98">1212-29-9</tspan><tspan x="743" dy="5.98">6422-86-2</tspan><tspan x="743" dy="5.98">76578-14-8</tspan><tspan x="743" dy="5.98">117-08-8</tspan><tspan x="743" dy="5.98">117-79-3</tspan><tspan x="743" dy="5.98">90-15-3</tspan><tspan x="743" dy="5.98">605-45-8</tspan><tspan x="743" dy="5.98">139-20-1</tspan><tspan x="743" dy="5.98">61-73-4</tspan><tspan x="743" dy="5.98">330-55-2</tspan><tspan x="743" dy="5.98">333-41-5</tspan><tspan x="743" dy="5.98">52645-53-1</tspan><tspan x="743" dy="5.98">121-75-5</tspan><tspan x="743" dy="5.98">63-25-2</tspan><tspan x="743" dy="5.98">52806-53-8</tspan><tspan x="743" dy="5.98">88-06-2</tspan><tspan x="743" dy="5.98">79-06-1</tspan><tspan x="743" dy="5.98">17696-62-7</tspan><tspan x="743" dy="5.98">80-05-7</tspan><tspan x="743" dy="5.98">58-89-9</tspan><tspan x="743" dy="5.98">608-73-1</tspan><tspan x="743" dy="5.98">1031-07-8</tspan><tspan x="743" dy="5.98">81741-28-8</tspan><tspan x="743" dy="5.98">51707-55-2</tspan><tspan x="743" dy="5.98">79538-32-2</tspan><tspan x="743" dy="5.98">116-06-3</tspan><tspan x="743" dy="5.98">375-95-1</tspan><tspan x="743" dy="5.98">1763-23-1</tspan><tspan x="743" dy="5.98">3825-26-1</tspan><tspan x="743" dy="5.98">52918-63-5</tspan><tspan x="743" dy="5.98">91465-08-6</tspan><tspan x="743" dy="5.98">298-00-0</tspan><tspan x="743" dy="5.98">2921-88-2</tspan><tspan x="743" dy="5.98">96-70-8</tspan><tspan x="743" dy="5.98">5598-15-2</tspan><tspan x="743" dy="5.98">1982-47-4</tspan><tspan x="743" dy="5.98">62-73-7</tspan><tspan x="743" dy="5.98">34256-82-1</tspan><tspan x="743" dy="5.98">77-40-7</tspan><tspan x="743" dy="5.98">15972-60-8</tspan><tspan x="743" dy="5.98">7696-12-0</tspan><tspan x="743" dy="5.98">122-14-5</tspan><tspan x="743" dy="5.98">2467-02-9</tspan><tspan x="743" dy="5.98">23031-36-9</tspan><tspan x="743" dy="5.98">10453-86-8</tspan><tspan x="743" dy="5.98">101-20-2</tspan><tspan x="743" dy="5.98">1806-26-4</tspan><tspan x="743" dy="5.98">57-74-9</tspan><tspan x="743" dy="5.98">1461-25-2</tspan><tspan x="743" dy="5.98">84852-15-3</tspan><tspan x="743" dy="5.98">309-00-2</tspan><tspan x="743" dy="5.98">76-44-8</tspan><tspan x="743" dy="5.98">7173-51-5</tspan><tspan x="743" dy="5.98">50-29-3</tspan><tspan x="743" dy="5.98">85507-79-5</tspan><tspan x="743" dy="5.98">115-29-7</tspan><tspan x="743" dy="5.98">51630-58-1</tspan><tspan x="743" dy="5.98">5153-25-3</tspan><tspan x="743" dy="5.98">137-30-4</tspan><tspan x="743" dy="5.98">137-26-8</tspan><tspan x="743" dy="5.98">143-50-0</tspan><tspan x="743" dy="5.98">72-43-5</tspan><tspan x="743" dy="5.98">7487-94-7</tspan><tspan x="743" dy="5.98">5137-55-3</tspan><tspan x="743" dy="5.98">104-40-5</tspan><tspan x="743" dy="5.98">156052-68-5</tspan><tspan x="743" dy="5.98">584-79-2</tspan><tspan x="743" dy="5.98">94-18-8</tspan><tspan x="743" dy="5.98">2058-94-8</tspan><tspan x="743" dy="5.98">148477-71-8</tspan><tspan x="743" dy="5.98">3380-34-5</tspan><tspan x="743" dy="5.98">789-02-6</tspan><tspan x="743" dy="5.98">72-55-9</tspan><tspan x="743" dy="5.98">57-09-0</tspan><tspan x="743" dy="5.98">83-79-4</tspan><tspan x="743" dy="5.98">87-86-5</tspan><tspan x="743" dy="5.98">126-72-7</tspan></text>
<text style="font-size:5px" x="781" y="400.7"><tspan x="781" dy="0">Spiroxamine</tspan><tspan x="781" dy="5.98">Diisobutyl phthalate</tspan><tspan x="781" dy="5.98">Monobutyl phthalate</tspan><tspan x="781" dy="5.98">Chlorpyrifos-methyl</tspan><tspan x="781" dy="5.98">4-Nitro-N-phenylaniline</tspan><tspan x="781" dy="5.98">1,2-Benzenedicarboxylic acid, dibutyl ester</tspan><tspan x="781" dy="5.98">Di(2-ethylhexyl) phthalate</tspan><tspan x="781" dy="5.98">Benzyl butyl phthalate</tspan><tspan x="781" dy="5.98">Phenothrin</tspan><tspan x="781" dy="5.98">Cypermethrin</tspan><tspan x="781" dy="5.98">Dieldrin</tspan><tspan x="781" dy="5.98">4,4'-Dichlorodiphenyl sulfone</tspan><tspan x="781" dy="5.98">Perfluorooctanoic acid</tspan><tspan x="781" dy="5.98">Perfluoroheptanoic acid</tspan><tspan x="781" dy="5.98">4-Hydroxybenzoic acid butyl ester</tspan><tspan x="781" dy="5.98">Fenpropathrin</tspan><tspan x="781" dy="5.98">MEHP</tspan><tspan x="781" dy="5.98">4-Butyl-1,2-diphenyl-3,5-Pyrazolidinedione</tspan><tspan x="781" dy="5.98">Vinclozolin</tspan><tspan x="781" dy="5.98">Di-n-octyl phthalate</tspan><tspan x="781" dy="5.98">Sulprofos</tspan><tspan x="781" dy="5.98">2,4-Dinitrophenol</tspan><tspan x="781" dy="5.98">Atrazine</tspan><tspan x="781" dy="5.98">Methyl carbamate</tspan><tspan x="781" dy="5.98">Tris(2-ethylhexyl) trimellitate</tspan><tspan x="781" dy="5.98">Heptyl p-hydroxybenzoate</tspan><tspan x="781" dy="5.98">N-(3,4-Dichlorophenyl)propanamide</tspan><tspan x="781" dy="5.98">Diisobutyl adipate</tspan><tspan x="781" dy="5.98">Naphthalene</tspan><tspan x="781" dy="5.98">Norflurazon</tspan><tspan x="781" dy="5.98">Phosmet</tspan><tspan x="781" dy="5.98">Dimethyl terephthalate</tspan><tspan x="781" dy="5.98">Etofenprox</tspan><tspan x="781" dy="5.98">Urethane</tspan><tspan x="781" dy="5.98">N,N'-Dicyclohexylthiourea</tspan><tspan x="781" dy="5.98">Bis(2-ethylhexyl) terephthalate</tspan><tspan x="781" dy="5.98">Quizalofop-ethyl</tspan><tspan x="781" dy="5.98">Tetrachlorophthalic anhydride</tspan><tspan x="781" dy="5.98">2-Aminoanthraquinone</tspan><tspan x="781" dy="5.98">1-Naphthol</tspan><tspan x="781" dy="5.98">Diisopropyl phthalate</tspan><tspan x="781" dy="5.98">D&amp;C Blue No. 9</tspan><tspan x="781" dy="5.98">Methylene blue</tspan><tspan x="781" dy="5.98">Linuron</tspan><tspan x="781" dy="5.98">Diazinon</tspan><tspan x="781" dy="5.98">Permethrin</tspan><tspan x="781" dy="5.98">Malathion</tspan><tspan x="781" dy="5.98">Carbaryl</tspan><tspan x="781" dy="5.98">Hydroxyflutamide</tspan><tspan x="781" dy="5.98">2,4,6-Trichlorophenol</tspan><tspan x="781" dy="5.98">Acrylamide</tspan><tspan x="781" dy="5.98">Phenylparaben</tspan><tspan x="781" dy="5.98">Bisphenol A</tspan><tspan x="781" dy="5.98">Lindane</tspan><tspan x="781" dy="5.98">1,2,3,4,5,6-Hexachlorocyclohexane</tspan><tspan x="781" dy="5.98">Endosulfan sulfate</tspan><tspan x="781" dy="5.98">Tributyltetradecylphosphonium chloride</tspan><tspan x="781" dy="5.98">Thidiazuron</tspan><tspan x="781" dy="5.98">Tefluthrin</tspan><tspan x="781" dy="5.98">Aldicarb</tspan><tspan x="781" dy="5.98">Perfluorononanoic acid</tspan><tspan x="781" dy="5.98">Perfluorooctanesulfonic acid</tspan><tspan x="781" dy="5.98">Ammonium perfluorooctanoate</tspan><tspan x="781" dy="5.98">Deltamethrin</tspan><tspan x="781" dy="5.98">λ-Cyhalothrin</tspan><tspan x="781" dy="5.98">Methyl parathion</tspan><tspan x="781" dy="5.98">Chlorpyrifos</tspan><tspan x="781" dy="5.98">2-tert-Butyl-4-ethylphenol</tspan><tspan x="781" dy="5.98">Chlorpyrifos oxon</tspan><tspan x="781" dy="5.98">Chloroxuron</tspan><tspan x="781" dy="5.98">Dichlorvos</tspan><tspan x="781" dy="5.98">Acetochlor</tspan><tspan x="781" dy="5.98">Bisphenol B</tspan><tspan x="781" dy="5.98">Alachlor</tspan><tspan x="781" dy="5.98">Tetramethrin</tspan><tspan x="781" dy="5.98">Fenitrothion</tspan><tspan x="781" dy="5.98">2,2'-Bisphenol F</tspan><tspan x="781" dy="5.98">Prallethrin</tspan><tspan x="781" dy="5.98">Resmethrin</tspan><tspan x="781" dy="5.98">Triclocarban</tspan><tspan x="781" dy="5.98">4-Octylphenol</tspan><tspan x="781" dy="5.98">Chlordane</tspan><tspan x="781" dy="5.98">Tetrabutyltin</tspan><tspan x="781" dy="5.98">4-Nonylphenol, branched</tspan><tspan x="781" dy="5.98">Aldrin</tspan><tspan x="781" dy="5.98">Heptachlor</tspan><tspan x="781" dy="5.98">Didecyldimethylammonium chloride</tspan><tspan x="781" dy="5.98">DDT</tspan><tspan x="781" dy="5.98">1,2-Benzenedicarboxylic acid, diundecyl ester</tspan><tspan x="781" dy="5.98">Endosulfan</tspan><tspan x="781" dy="5.98">(R,R)-Fenvalerate</tspan><tspan x="781" dy="5.98">2-Ethylhexyl p-hydroxybenzoate</tspan><tspan x="781" dy="5.98">Ziram</tspan><tspan x="781" dy="5.98">Bis(dimethylaminothiocarbonyl) disulfide</tspan><tspan x="781" dy="5.98">Kepone</tspan><tspan x="781" dy="5.98">Methoxychlor</tspan><tspan x="781" dy="5.98">Mercuric chloride</tspan><tspan x="781" dy="5.98">Methyltrioctylammonium chloride</tspan><tspan x="781" dy="5.98">4-Nonylphenol</tspan><tspan x="781" dy="5.98">Zoxamide</tspan><tspan x="781" dy="5.98">Allethrin</tspan><tspan x="781" dy="5.98">Benzyl 4-hydroxybenzoate</tspan><tspan x="781" dy="5.98">Perfluoroundecanoic acid</tspan><tspan x="781" dy="5.98">Spirodiclofen</tspan><tspan x="781" dy="5.98">Triclosan</tspan><tspan x="781" dy="5.98">o,p'-DDT</tspan><tspan x="781" dy="5.98">p,p'-DDE</tspan><tspan x="781" dy="5.98">Hexadecyltrimethylammonium bromide</tspan><tspan x="781" dy="5.98">Rotenone</tspan><tspan x="781" dy="5.98">Pentachlorophenol</tspan><tspan x="781" dy="5.98">Tris(2,3-dibromopropyl) phosphate</tspan></text>

<!-- ================= m ================= -->
<text class="L" x="4" y="579">m</text>
<rect x="44" y="559" width="302" height="241" fill="none" stroke="#555" stroke-width="0.8"/>
<rect x="46" y="561" width="130" height="28" fill="#fff" stroke="#d0d0d0" stroke-width="0.6" rx="2"/>
<circle cx="55" cy="565.7" r="2.2" fill="#1f2f8f"/><rect x="52" y="571.3" width="6" height="6" fill="#e8262a"/><path d="M55 580.5L57.6 585.5H52.4Z" fill="#999"/>
<g style="font-size:5.8px"><text x="66" y="568">Ameliorate intestinal inflammation</text><text x="66" y="577">Worsen intestinal inflammation</text><text x="66" y="586">No effect on intestinal inflammation</text></g>
<path class="ax" d="M67 800V802.5M130 800V802.5M194.6 800V802.5M259.2 800V802.5M323.8 800V802.5M44 587H41.5M44 621.4H41.5M44 655.7H41.5M44 690H41.5M44 724.3H41.5M44 758.6H41.5M44 792.9H41.5"/>
<g class="m" style="font-size:4.3px"><text x="67" y="807">−2</text><text x="130" y="807">0</text><text x="194.6" y="807">2</text><text x="259.2" y="807">4</text><text x="323.8" y="807">6</text></g>
<g class="e" style="font-size:4.3px"><text x="40.5" y="588.5">3</text><text x="40.5" y="622.9">2</text><text x="40.5" y="657.2">1</text><text x="40.5" y="691.5">0</text><text x="40.5" y="725.8">−1</text><text x="40.5" y="760.1">−2</text><text x="40.5" y="794.4">−3</text></g>
<text class="m" style="font-size:8.5px" x="190" y="816">principal component 1 (32.9%)</text>
<text class="m" style="font-size:8.5px" transform="translate(30,673) rotate(-90)">principal component 2 (18.7%)</text>
<g fill="#e8262a">
<rect x="178" y="567" width="6" height="6"/><rect x="132" y="595.7" width="6" height="6"/><rect x="186" y="600" width="6" height="6"/><rect x="109.3" y="627.7" width="6" height="6"/><rect x="146.3" y="627.7" width="6" height="6"/><rect x="304.3" y="625.7" width="6" height="6"/><rect x="123.3" y="666" width="6" height="6"/><rect x="161" y="669.3" width="6" height="6"/><rect x="134.7" y="678.3" width="6" height="6"/><rect x="76" y="686" width="6" height="6"/><rect x="117" y="776" width="6" height="6"/><rect x="319.3" y="765" width="6" height="6"/><rect x="331" y="777.3" width="6" height="6"/>
</g>
<g fill="#1f2f8f"><circle cx="92.3" cy="632.3" r="2.2"/><circle cx="100" cy="655.7" r="2.2"/><circle cx="70" cy="670" r="2.2"/><circle cx="72.7" cy="678.7" r="2.2"/></g>
<g fill="#9a9a9a"><path d="M95 656.5l2.4 4.5h-4.8Z M86.7 667.5l2.4 4.5h-4.8Z M97.3 669.2l2.4 4.5h-4.8Z M69.3 686.5l2.4 4.5h-4.8Z M102.3 695.2l2.4 4.5h-4.8Z M82.3 713.2l2.4 4.5h-4.8Z M113.3 717.5l2.4 4.5h-4.8Z M69.3 722.8l2.4 4.5h-4.8Z M136.7 731.5l2.4 4.5h-4.8Z M136.7 740.2l2.4 4.5h-4.8Z M73.3 753.5l2.4 4.5h-4.8Z M57.7 770.8l2.4 4.5h-4.8Z M88.7 786.5l2.4 4.5h-4.8Z"/></g>
<g class="m" style="font-size:5.8px">
<text x="137.5" y="607">Vinclozolin</text><text x="207" y="612">Monobutyl phthalate</text><text x="97" y="624">4,4'-Dichlorodiphenyl sulfone</text><text x="90" y="641">PFOA</text><text x="198" y="640">Hexadecyltrimethylammonium bromide</text><text x="311" y="637">Bisphenol B</text>
<text x="78" y="652">Di(2-ethylhexyl)</text><text x="79" y="657">phthalate</text><text x="98" y="666">Heptylparaben</text><text x="58" y="672">PFNA</text><text x="148" y="666">Methyl carbamate</text>
<text x="108" y="677">Dimethyl terephthalate</text><text x="185" y="681">2-Aminoathraquinone</text><text x="140" y="689">Norflurazon</text><text x="75" y="685">Diisobutyl adipate</text>
<text x="74" y="696">Chlorpyrifos-methyl</text><text x="111" y="705">Tris(2-ethylhexyl) trimellitate</text><text x="83" y="713">Butyl benzyl phthalate</text><text x="115" y="728">Etofenprox</text>
<text x="76" y="734">Tetrachlorophthalic</text><text x="76" y="739">anhydride</text><text x="138.5" y="751">Malathion</text><text x="73" y="765">Diazinon</text>
<text x="66" y="781">Diisopropyl</text><text x="66" y="786">phthalate</text><text x="133" y="789">4-Nitrodiphylamine</text><text x="89" y="797">Phenothrin</text><text x="322" y="776">Phosmet</text><text x="317" y="788">Phenylbutazone</text>
</g>
<g style="font-size:5.8px"><text x="188" y="575">Acetochlor</text><text x="102" y="653">mono-2-Ethylhexyl phthalate</text><text x="84" y="691">Linuron</text><text x="144" y="734">Spiroxamine</text></g>

<!-- ================= n ================= -->
<text class="L" x="3" y="838">n</text>
<defs><linearGradient id="cb" x1="0" y1="0" x2="0" y2="1"><stop offset="0" stop-color="#e31a1c"/><stop offset="0.2" stop-color="#f06060"/><stop offset="0.4" stop-color="#f9c0c0"/><stop offset="0.52" stop-color="#ffffff"/><stop offset="0.62" stop-color="#dcdcf0"/><stop offset="0.8" stop-color="#8d95cf"/><stop offset="1" stop-color="#2a3b9e"/></linearGradient></defs>
<rect x="28" y="842" width="8" height="89" fill="url(#cb)" stroke="#333" stroke-width="0.5"/>
<g class="tk"><text x="39" y="845">5</text><text x="39" y="862.5">4</text><text x="39" y="880">3</text><text x="39" y="898">2</text><text x="39" y="915">1</text><text x="39" y="933">0</text></g>
<text class="tk m" transform="translate(20,886) rotate(-90)">Intestinal Score</text>
<g class="m" style="font-size:5.8px"><text x="155" y="841">0.2µM</text><text x="180.6" y="841">1µM</text><text x="206.4" y="841">5µM</text><text x="232.1" y="841">20µM</text></g>
<svg x="142" y="844" width="103" height="425" viewBox="0 0 4 40" preserveAspectRatio="none" shape-rendering="crispEdges">
<rect width="4" height="40" fill="#fff"/>
<rect x="3" y="22" width="1" height="18" fill="#a9a9a9"/><rect x="2" y="30" width="1" height="10" fill="#a9a9a9"/><rect x="1" y="37" width="1" height="3" fill="#a9a9a9"/>
<rect x="0" y="0" width="1" height="1" fill="#f2f2f9"/><rect x="1" y="0" width="1" height="1" fill="#f1f1f8"/><rect x="2" y="0" width="1" height="1" fill="#d9d9ee"/><rect x="3" y="0" width="1" height="1" fill="#d9d9ee"/>
<rect x="0" y="1" width="1" height="1" fill="#f5f5fb"/><rect x="3" y="1" width="1" height="1" fill="#e6e6f3"/>
<rect x="0" y="2" width="1" height="1" fill="#f1f1f8"/><rect x="1" y="2" width="3" height="1" fill="#e8e8f4"/>
<rect x="0" y="3" width="1" height="1" fill="#fcefef"/><rect x="1" y="3" width="2" height="1" fill="#fdf6f6"/><rect x="3" y="3" width="1" height="1" fill="#fbf8f9"/>
<rect x="0" y="4" width="1" height="1" fill="#ededf7"/><rect x="1" y="4" width="2" height="1" fill="#e6e6f3"/><rect x="3" y="4" width="1" height="1" fill="#f7f7fb"/>
<rect x="0" y="5" width="1" height="1" fill="#fdeeee"/><rect x="1" y="5" width="1" height="1" fill="#d9d9ee"/><rect x="2" y="5" width="1" height="1" fill="#e0e0f1"/><rect x="3" y="5" width="1" height="1" fill="#fbf8f9"/>
<rect x="1" y="6" width="1" height="1" fill="#e2e2f1"/><rect x="2" y="6" width="1" height="1" fill="#fdf5f5"/><rect x="3" y="6" width="1" height="1" fill="#fdf0f0"/>
<rect x="0" y="7" width="1" height="1" fill="#e2e2f1"/><rect x="1" y="7" width="1" height="1" fill="#e4e4f2"/><rect x="2" y="7" width="1" height="1" fill="#eeeef7"/><rect x="3" y="7" width="1" height="1" fill="#fbe6e6"/>
<rect x="0" y="8" width="1" height="1" fill="#fbe1e1"/><rect x="1" y="8" width="1" height="1" fill="#f8d5d5"/><rect x="2" y="8" width="1" height="1" fill="#fdf7f7"/><rect x="3" y="8" width="1" height="1" fill="#fce8e8"/>
<rect x="0" y="9" width="1" height="1" fill="#fdeeee"/><rect x="1" y="9" width="1" height="1" fill="#f6c8c8"/><rect x="2" y="9" width="1" height="1" fill="#fadcdc"/><rect x="3" y="9" width="1" height="1" fill="#fbe6e6"/>
<rect x="0" y="10" width="1" height="1" fill="#fbe6e6"/><rect x="1" y="10" width="1" height="1" fill="#fdf7f7"/><rect x="2" y="10" width="1" height="1" fill="#f8d3d3"/><rect x="3" y="10" width="1" height="1" fill="#fbe6e6"/>
<rect x="0" y="11" width="3" height="1" fill="#fdf2f2"/><rect x="3" y="11" width="1" height="1" fill="#fadcdc"/>
<rect x="0" y="12" width="1" height="1" fill="#e6e6f3"/><rect x="1" y="12" width="1" height="1" fill="#e8e8f4"/><rect x="2" y="12" width="1" height="1" fill="#e2e2f1"/><rect x="3" y="12" width="1" height="1" fill="#fadcdc"/>
<rect x="0" y="13" width="1" height="1" fill="#fadcdc"/><rect x="1" y="13" width="1" height="1" fill="#f1f1f8"/><rect x="2" y="13" width="1" height="1" fill="#fbe6e6"/><rect x="3" y="13" width="1" height="1" fill="#f8d0d0"/>
<rect x="0" y="14" width="1" height="1" fill="#f8d5d5"/><rect x="1" y="14" width="1" height="1" fill="#fadcdc"/><rect x="2" y="14" width="1" height="1" fill="#fbe6e6"/><rect x="3" y="14" width="1" height="1" fill="#f8d0d0"/>
<rect x="0" y="15" width="1" height="1" fill="#fdf2f2"/><rect x="1" y="15" width="2" height="1" fill="#f8d5d5"/><rect x="3" y="15" width="1" height="1" fill="#f8d0d0"/>
<rect x="0" y="16" width="1" height="1" fill="#f6c8c8"/><rect x="1" y="16" width="2" height="1" fill="#f8d5d5"/><rect x="3" y="16" width="1" height="1" fill="#f8d0d0"/>
<rect x="0" y="17" width="1" height="1" fill="#fadcdc"/><rect x="1" y="17" width="1" height="1" fill="#f8d5d5"/><rect x="3" y="17" width="1" height="1" fill="#f8d0d0"/>
<rect x="0" y="18" width="3" height="1" fill="#f8d5d5"/><rect x="3" y="18" width="1" height="1" fill="#f6c8c8"/>
<rect x="0" y="19" width="2" height="1" fill="#fdf2f2"/><rect x="2" y="19" width="1" height="1" fill="#f1f1f8"/><rect x="3" y="19" width="1" height="1" fill="#f6c8c8"/>
<rect x="0" y="20" width="2" height="1" fill="#fdf2f2"/><rect x="2" y="20" width="2" height="1" fill="#f3b9b9"/>
<rect x="0" y="21" width="1" height="1" fill="#f8d0d0"/><rect x="1" y="21" width="1" height="1" fill="#f3bcbc"/><rect x="2" y="21" width="1" height="1" fill="#f3b9b9"/><rect x="3" y="21" width="1" height="1" fill="#e04a4c"/>
<rect x="0" y="22" width="3" height="1" fill="#fdf2f2"/>
<rect x="0" y="23" width="1" height="1" fill="#f6c8c8"/><rect x="1" y="23" width="1" height="1" fill="#f8d5d5"/><rect x="2" y="23" width="1" height="1" fill="#fdf2f2"/>
<rect x="1" y="24" width="1" height="1" fill="#f1f1f8"/><rect x="2" y="24" width="1" height="1" fill="#fadcdc"/>
<rect x="0" y="25" width="1" height="1" fill="#f8d0d0"/><rect x="1" y="25" width="1" height="1" fill="#e8e8f4"/><rect x="2" y="25" width="1" height="1" fill="#fadcdc"/>
<rect x="1" y="26" width="1" height="1" fill="#fdf5f5"/><rect x="2" y="26" width="1" height="1" fill="#f8d0d0"/>
<rect x="1" y="27" width="1" height="1" fill="#fbe6e6"/><rect x="2" y="27" width="1" height="1" fill="#f2b2b2"/>
<rect x="0" y="28" width="1" height="1" fill="#f3bcbc"/><rect x="1" y="28" width="1" height="1" fill="#f1b0b0"/><rect x="2" y="28" width="1" height="1" fill="#e65054"/>
<rect x="0" y="29" width="1" height="1" fill="#fadcdc"/><rect x="1" y="29" width="1" height="1" fill="#fbe6e6"/><rect x="2" y="29" width="1" height="1" fill="#e0383c"/>
<rect x="1" y="30" width="1" height="1" fill="#f1f1f8"/><rect x="1" y="31" width="1" height="1" fill="#fbf8f9"/>
<rect x="0" y="32" width="1" height="2" fill="#fdf5f5"/><rect x="1" y="32" width="1" height="2" fill="#fbe6e6"/>
<rect x="0" y="34" width="1" height="2" fill="#f8d5d5"/><rect x="1" y="34" width="1" height="1" fill="#fadcdc"/><rect x="1" y="35" width="1" height="1" fill="#f8d0d0"/>
<rect x="0" y="36" width="1" height="1" fill="#f8d0d0"/><rect x="1" y="36" width="1" height="1" fill="#f6c8c8"/>
<rect x="0" y="37" width="1" height="1" fill="#f7f7fb"/><rect x="0" y="38" width="1" height="1" fill="#fbe6e6"/><rect x="0" y="39" width="1" height="1" fill="#f8d5d5"/>
</svg>
<rect x="142" y="844" width="103" height="425" fill="none" stroke="#111" stroke-width="1.3"/>
<g class="m" style="font-size:5px"><text x="206.4" y="851.5">*</text><text x="232.1" y="851.5">*</text><text x="232.1" y="1043">*</text><text x="232.1" y="1053.5">*</text><text x="206.4" y="1064">*</text><text x="232.1" y="1064">*</text><text x="206.4" y="1074.5">*</text><text x="232.1" y="1074.5">****</text><text x="206.4" y="1138.5">**</text><text x="154.9" y="1149">*</text><text x="180.6" y="1149">**</text><text x="206.4" y="1149">****</text><text x="206.4" y="1159.5">****</text><text x="180.6" y="1234">*</text></g>
<path class="ax" d="M139 849.3H142M139 859.9H142M139 870.6H142M139 881.2H142M139 891.8H142M139 902.4H142M139 913.1H142M139 923.7H142M139 934.3H142M139 945H142M139 955.6H142M139 966.2H142M139 976.8H142M139 987.4H142M139 998.1H142M139 1008.7H142M139 1019.3H142M139 1030H142M139 1040.6H142M139 1051.2H142M139 1061.8H142M139 1072.4H142M139 1083.1H142M139 1093.7H142M139 1104.3H142M139 1115H142M139 1125.6H142M139 1136.2H142M139 1146.8H142M139 1157.4H142M139 1168.1H142M139 1178.7H142M139 1189.3H142M139 1200H142M139 1210.6H142M139 1221.2H142M139 1231.8H142M139 1242.4H142M139 1253.1H142M139 1263.7H142"/>
<text class="e" style="font-size:5.8px" x="138" y="851.3"><tspan x="138" dy="0">2-Mercaptobenzothiazole</tspan><tspan x="138" dy="10.625">Thiophanate-methyl</tspan><tspan x="138" dy="10.625">Pentadecane</tspan><tspan x="138" dy="10.625">Naphthalene</tspan><tspan x="138" dy="10.625">Urethane</tspan><tspan x="138" dy="10.625">1,4-Dichlorobenzene</tspan><tspan x="138" dy="10.625">2,2-Dimethylpropane-1,3-diol</tspan><tspan x="138" dy="10.625">2-Phenylphenol</tspan><tspan x="138" dy="10.625">Methoxyfenozide</tspan><tspan x="138" dy="10.625">Dimethomorph</tspan><tspan x="138" dy="10.625">4,4'-Methylenebis(N,N-dimethylaniline)</tspan><tspan x="138" dy="10.625">Flufenoxuron</tspan><tspan x="138" dy="10.625">Caprolactam</tspan><tspan x="138" dy="10.625">Thiocyanic acid, ammonium salt</tspan><tspan x="138" dy="10.625">Phenol red</tspan><tspan x="138" dy="10.625">Heptanophenone</tspan><tspan x="138" dy="10.625">Dodecanoic acid</tspan><tspan x="138" dy="10.625">Acifluorfen</tspan><tspan x="138" dy="10.625">Vernolate</tspan><tspan x="138" dy="10.625">4-Chloro-3,5-dimethylphenol</tspan><tspan x="138" dy="10.625">Chloridazon</tspan><tspan x="138" dy="10.625">1-Naphthol</tspan><tspan x="138" dy="10.625">Fluthiacet-methyl</tspan><tspan x="138" dy="10.625">Butylated hydroxytoluene</tspan><tspan x="138" dy="10.625">Fludioxonil</tspan><tspan x="138" dy="10.625">3-(4-tert-Butylphenyl)-2-methylpropanal</tspan><tspan x="138" dy="10.625">N,N,N-Trimethyltetradecan-1-aminium chloride</tspan><tspan x="138" dy="10.625">4-Cumylphenol</tspan><tspan x="138" dy="10.625">Oryzalin</tspan><tspan x="138" dy="10.625">Dicyclohexyl phthalate</tspan><tspan x="138" dy="10.625">Buprofezin</tspan><tspan x="138" dy="10.625">Carboxin</tspan><tspan x="138" dy="10.625">Didecyldimethylammonium chloride</tspan><tspan x="138" dy="10.625">2,3-Diaminotoluene</tspan><tspan x="138" dy="10.625">2,5-Di-tert-butylbenzene-1,4-diol</tspan><tspan x="138" dy="10.625">Aniline hydrochloride</tspan><tspan x="138" dy="10.625">4,4'-Oxydianiline</tspan><tspan x="138" dy="10.625">3-Chloro-4-methylaniline</tspan><tspan x="138" dy="10.625">Methoxychlor</tspan><tspan x="138" dy="10.625">Captafol</tspan></text>

<!-- ================= o ================= -->
<text class="L" x="248" y="917">o</text>
<path class="ax" d="M293 910V1015H390M290.5 910H293M290.5 931H293M290.5 952H293M290.5 973H293M290.5 994H293M290.5 1015H293"/>
<g class="tk e"><text x="288" y="912.5">5</text><text x="288" y="933.5">4</text><text x="288" y="954.5">3</text><text x="288" y="975.5">2</text><text x="288" y="996.5">1</text><text x="288" y="1017.5">0</text></g>
<rect x="297" y="993" width="13" height="22" class="g1"/>
<rect x="316" y="984.5" width="12" height="30.5" class="rd"/>
<rect x="335" y="981.4" width="13" height="33.6" class="rd"/>
<rect x="354" y="982.5" width="13" height="32.5" class="rd"/>
<rect x="374" y="982.5" width="13" height="32.5" class="rd"/>
<path class="dt" d="M297 973H310M316 973H328M335 973H348M354 973H367M374 973H387"/>
<path class="th" d="M297 994H310M316 994H328M335 994H348M354 994H367M374 994H387"/>
<path class="dots" d="M303 1015h0M322 952h0M341 952h0"/>
<path class="eb" d="M303.5 988V998M301.5 988H305.5M322 979V990M320 979H324M341.5 976V987M339.5 976H343.5M360.5 977V988M358.5 977H362.5M380.5 978V987M378.5 978H382.5"/>
<g class="m" style="font-size:5.5px"><text x="341" y="917">0.1553</text><text x="331" y="926">0.4091</text><text x="322" y="936">0.1058</text><text x="312" y="945">0.4091</text></g>
<path class="pl" d="M303 920H381M303 929H361M303 939H341M303 947H322"/>
<text class="tt m" transform="translate(272,963) rotate(-90)">Intestinal Score</text>
<g class="tt e"><text transform="translate(306,1022) rotate(-45)">Naive Vehicle</text><text transform="translate(325,1022) rotate(-45)">0.2µM</text><text transform="translate(344,1022) rotate(-45)">1µM</text><text transform="translate(363,1022) rotate(-45)">5µM</text><text transform="translate(383,1022) rotate(-45)">20µM</text></g>

<!-- ================= p ================= -->
<text class="L" x="253" y="1098">p</text>
<text class="tk m" style="font-size:7.5px" transform="translate(273,1147) rotate(-90)">Relative Expression</text>
<!-- il17a/f -->
<text class="it m" x="326" y="1093">il17a/f</text>
<path class="ax" d="M288 1094V1202H362M285.5 1094H288M285.5 1121H288M285.5 1148H288M285.5 1175H288M285.5 1202H288"/>
<g class="tk e"><text x="283" y="1096.5">4</text><text x="283" y="1123.5">3</text><text x="283" y="1150.5">2</text><text x="283" y="1177.5">1</text><text x="283" y="1204.5">0</text></g>
<rect x="295" y="1181.7" width="10" height="20.3" class="g1"/><rect x="308" y="1179" width="10" height="23" class="rd"/><rect x="323" y="1181" width="10" height="21" class="rd"/><rect x="337" y="1182.6" width="10" height="19.4" class="rd"/><rect x="350" y="1184.4" width="10" height="17.6" class="rd"/>
<path class="dots" d="M298 1168h0M302 1170h0M300 1175h0M297 1180h0M303 1183h0M299 1189h0M302 1191h0M300 1197h0M313 1139h0M313 1156h0M310 1164h0M316 1180h0M312 1186h0M315 1191h0M311 1197h0M328 1124h0M328 1155h0M325 1186h0M331 1191h0M327 1194h0M330 1197h0M342 1145h0M342 1170h0M339 1180h0M345 1186h0M341 1191h0M344 1194h0M355 1167h0M352 1171h0M358 1175h0M354 1180h0M357 1189h0M353 1194h0"/>
<path class="eb" d="M300 1176V1188M298 1176H302M313 1171V1188M311 1171H315M328 1172V1193M326 1172H330M342 1176V1189M340 1176H344M355 1180V1190M353 1180H357"/>
<g class="tt e"><text transform="translate(303,1208) rotate(-45)">Naive Vehicle</text><text transform="translate(316,1208) rotate(-45)">0.2µM</text><text transform="translate(331,1208) rotate(-45)">1µM</text><text transform="translate(345,1208) rotate(-45)">5µM</text><text transform="translate(358,1208) rotate(-45)">20µM</text></g>
<path class="pl" d="M308 1226H358"/><text class="tt m" x="335" y="1234">Propyzamide</text>
<!-- tnfa -->
<text class="it m" x="421" y="1093">tnfa</text>
<path class="ax" d="M382 1094V1202H455M379.5 1094H382M379.5 1121H382M379.5 1148H382M379.5 1175H382M379.5 1202H382"/>
<g class="tk e"><text x="377" y="1096.5">4</text><text x="377" y="1123.5">3</text><text x="377" y="1150.5">2</text><text x="377" y="1177.5">1</text><text x="377" y="1204.5">0</text></g>
<rect x="388" y="1172.8" width="10" height="29.2" class="g1"/><rect x="402" y="1169" width="10" height="33" class="rd"/><rect x="417" y="1167.4" width="10" height="34.6" class="rd"/><rect x="430" y="1175" width="10" height="27" class="rd"/><rect x="443" y="1187.1" width="10" height="14.9" class="rd"/>
<path class="dots" d="M393 1143h0M393 1162h0M390 1170h0M396 1175h0M392 1180h0M395 1189h0M391 1193h0M407 1134h0M407 1147h0M404 1164h0M410 1172h0M406 1180h0M422 1118h0M422 1160h0M419 1167h0M425 1172h0M421 1178h0M423 1189h0M435 1153h0M438 1156h0M432 1170h0M437 1178h0M434 1186h0M436 1197h0M448 1163h0M448 1175h0M445 1186h0M451 1191h0M447 1197h0"/>
<path class="eb" d="M393 1165V1181M391 1165H395M407 1161V1177M405 1161H409M422 1160V1175M420 1160H424M435 1168V1183M433 1168H437M448 1182V1192M446 1182H450"/>
<g class="tt e"><text transform="translate(396,1208) rotate(-45)">Naive Vehicle</text><text transform="translate(410,1208) rotate(-45)">0.2µM</text><text transform="translate(425,1208) rotate(-45)">1µM</text><text transform="translate(438,1208) rotate(-45)">5µM</text><text transform="translate(451,1208) rotate(-45)">20µM</text></g>
<path class="pl" d="M402 1228H452"/><text class="tt m" x="425" y="1235">Propyzamide</text>
<!-- ifng -->
<text class="it m" x="510" y="1093">ifng</text>
<path class="ax" d="M472 1094V1202H542M469.5 1094H472M469.5 1121H472M469.5 1148H472M469.5 1175H472M469.5 1202H472"/>
<g class="tk e"><text x="467" y="1096.5">4</text><text x="467" y="1123.5">3</text><text x="467" y="1150.5">2</text><text x="467" y="1177.5">1</text><text x="467" y="1204.5">0</text></g>
<rect x="478" y="1178.2" width="10" height="23.8" class="g1"/><rect x="491" y="1184.4" width="10" height="17.6" class="rd"/><rect x="504" y="1193.1" width="10" height="8.9" class="rd"/><rect x="518" y="1189" width="10" height="13" class="rd"/><rect x="532" y="1191.2" width="10" height="10.8" class="rd"/>
<path class="dots" d="M483 1159h0M483 1170h0M480 1172h0M486 1178h0M482 1183h0M485 1189h0M496 1121h0M496 1175h0M493 1183h0M499 1189h0M495 1194h0M498 1197h0M509 1186h0M506 1189h0M512 1191h0M508 1194h0M511 1197h0M523 1172h0M520 1175h0M526 1186h0M522 1191h0M525 1197h0M537 1159h0M537 1186h0M534 1191h0M540 1197h0"/>
<path class="eb" d="M483 1172V1185M481 1172H485M496 1176V1194M494 1176H498M509 1190V1196M507 1190H511M523 1184V1194M521 1184H525M537 1186V1196M535 1186H539"/>
<g class="tt e"><text transform="translate(486,1208) rotate(-45)">Naive Vehicle</text><text transform="translate(499,1208) rotate(-45)">0.2µM</text><text transform="translate(512,1208) rotate(-45)">1µM</text><text transform="translate(526,1208) rotate(-45)">5µM</text><text transform="translate(540,1208) rotate(-45)">20µM</text></g>
<path class="pl" d="M491 1227H540"/><text class="tt m" x="518" y="1234">Propyzamide</text>
<!-- il1b -->
<text class="it m" x="598" y="1093">il1b</text>
<path class="ax" d="M557 1094V1202H632M554.5 1094H557M554.5 1130H557M554.5 1166H557M554.5 1202H557"/>
<g class="tk e"><text x="552" y="1096.5">3</text><text x="552" y="1132.5">2</text><text x="552" y="1168.5">1</text><text x="552" y="1204.5">0</text></g>
<rect x="565" y="1171.4" width="10" height="30.6" class="g1"/><rect x="579" y="1170.7" width="10" height="31.3" class="rd"/><rect x="592" y="1178.6" width="10" height="23.4" class="rd"/><rect x="605" y="1183.3" width="10" height="18.7" class="rd"/><rect x="618" y="1182.9" width="10" height="19.1" class="rd"/>
<path class="dots" d="M570 1146h0M570 1166h0M567 1168h0M573 1173h0M569 1177h0M572 1186h0M584 1107h0M584 1162h0M581 1170h0M587 1180h0M583 1188h0M597 1148h0M597 1170h0M594 1177h0M600 1184h0M596 1191h0M610 1157h0M610 1170h0M607 1180h0M613 1188h0M609 1195h0M623 1132h0M623 1162h0M620 1180h0M626 1188h0M622 1197h0"/>
<path class="eb" d="M570 1166V1177M568 1166H572M584 1163V1180M582 1163H586M597 1172V1186M595 1172H599M610 1177V1190M608 1177H612M623 1171V1195M621 1171H625"/>
<g class="tt e"><text transform="translate(573,1208) rotate(-45)">Naive Vehicle</text><text transform="translate(587,1208) rotate(-45)">0.2µM</text><text transform="translate(600,1208) rotate(-45)">1µM</text><text transform="translate(613,1208) rotate(-45)">5µM</text><text transform="translate(626,1208) rotate(-45)">20µM</text></g>
<path class="pl" d="M577 1226H630"/><text class="tt m" x="608" y="1237">Propyzamide</text>
<!-- nos2a -->
<text class="it m" x="690" y="1093">nos2a</text>
<path class="ax" d="M652 1095V1202H723M649.5 1095H652M649.5 1131H652M649.5 1166.5H652M649.5 1202H652"/>
<g class="tk e"><text x="647" y="1097.5">6</text><text x="647" y="1133.5">4</text><text x="647" y="1169">2</text><text x="647" y="1204.5">0</text></g>
<rect x="657" y="1180.6" width="10" height="21.4" class="g1"/><rect x="670" y="1178.9" width="10" height="23.1" class="rd"/><rect x="684" y="1180.6" width="10" height="21.4" class="rd"/><rect x="698" y="1194.9" width="10" height="7.1" class="rd"/><rect x="711" y="1193.1" width="11" height="8.9" class="rd"/>
<path class="dots" d="M662 1157h0M662 1166h0M659 1174h0M665 1181h0M661 1184h0M664 1191h0M660 1197h0M675 1108h0M675 1141h0M672 1184h0M678 1191h0M674 1195h0M677 1198h0M689 1134h0M689 1166h0M686 1184h0M692 1190h0M688 1195h0M703 1186h0M700 1190h0M706 1193h0M702 1197h0M716 1163h0M716 1174h0M713 1197h0M719 1200h0"/>
<path class="eb" d="M662 1174V1187M660 1174H664M675 1165V1193M673 1165H677M689 1168V1193M687 1168H691M703 1192V1198M701 1192H705M716 1187V1199M714 1187H718"/>
<g class="tt e"><text transform="translate(665,1208) rotate(-45)">Naive Vehicle</text><text transform="translate(678,1208) rotate(-45)">0.2µM</text><text transform="translate(692,1208) rotate(-45)">1µM</text><text transform="translate(706,1208) rotate(-45)">5µM</text><text transform="translate(719,1208) rotate(-45)">20µM</text></g>
<path class="pl" d="M670 1233H718"/><text class="tt m" x="695" y="1240">Propyzamide</text>

<!-- ================= q ================= -->
<text class="L" x="716" y="1103">q</text>
<path class="ax" d="M763 1103V1203H868M760.5 1103H763M760.5 1123H763M760.5 1143H763M760.5 1163H763M760.5 1183H763M760.5 1203H763"/>
<g class="tk e"><text x="758" y="1105.5">5</text><text x="758" y="1125.5">4</text><text x="758" y="1145.5">3</text><text x="758" y="1165.5">2</text><text x="758" y="1185.5">1</text><text x="758" y="1205.5">0</text></g>
<rect x="767" y="1181" width="10" height="22" class="g1"/>
<rect x="782" y="1152" width="11" height="51" class="g2"/>
<rect x="797" y="1169" width="10" height="34" class="bl"/>
<rect x="812" y="1169" width="10" height="34" class="bl"/>
<rect x="827" y="1140" width="10" height="63" class="rd"/>
<rect x="841" y="1158" width="10" height="45" class="rb"/>
<rect x="856" y="1156" width="10" height="47" class="rb"/>
<path class="dt" d="M767 1163H777M782 1123H793M797 1143H807M812 1143H822M827 1143H837M841 1143H851M856 1143H866"/>
<path class="th" d="M767 1183H777M782 1143H793M782 1163H793M797 1163H807M797 1183H807M812 1163H822M812 1183H822M827 1123H837M827 1163H837M841 1163H851M841 1183H851M856 1163H866"/>
<path class="dots" d="M772 1203h0M846 1123h0M861 1123h0M832 1105h0"/>
<path class="eb" d="M772 1177V1185M770 1177H774M787.5 1147V1157M785.5 1147H789.5M802 1165V1173M800 1165H804M817 1165V1173M815 1165H819M832 1136V1144M830 1136H834M846 1154V1162M844 1154H848M861 1152V1160M859 1152H863"/>
<g class="m" style="font-size:3.6px"><text x="840" y="1085">P = 0.0508</text><text x="826" y="1092">P = 0.2224</text><text x="802" y="1101">P = 0.0004</text><text x="795" y="1108">P = 0.0004</text><text x="845" y="1108">P = 0.0005</text><text x="780" y="1117">P &lt; 0.0001</text><text x="808" y="1117">P = 0.0096</text><text x="847" y="1117">P &lt; 0.0001</text></g>
<path class="pl" style="stroke-width:0.8" d="M817 1088H862M802 1095H847M787 1104H817M785 1111H802M832 1111H860M772 1120H788M788 1120H828M832 1120H860"/>
<text class="tt m" transform="translate(746,1153) rotate(-90)">Intestinal Score</text>
<g class="tt e"><text transform="translate(775,1209) rotate(-45)">Naive Vehicle</text><text transform="translate(790,1209) rotate(-45)">Vehicle</text><text transform="translate(805,1209) rotate(-45)">NOSI</text><text transform="translate(820,1209) rotate(-45)">FICZ</text><text transform="translate(835,1209) rotate(-45)">Vehicle</text><text transform="translate(849,1209) rotate(-45)">NOSI</text><text transform="translate(864,1209) rotate(-45)">FICZ</text></g>
<path class="pl" d="M827 1225H868"/><text class="tt m" x="847" y="1233">Propyzamide</text>
<path class="pl" d="M785 1240H868"/><text class="tt m" x="822" y="1248">TNBS</text>
</svg>
</body></html>
